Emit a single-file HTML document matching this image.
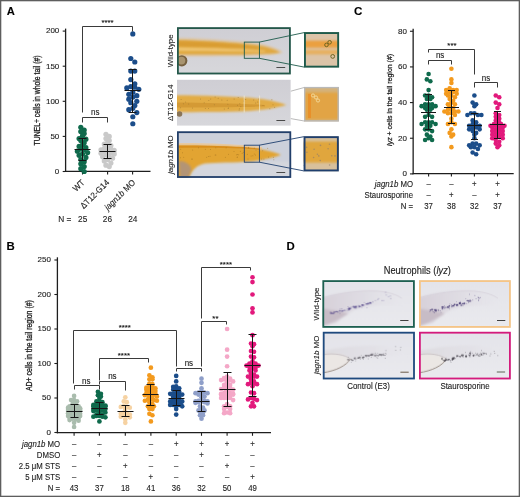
<!DOCTYPE html>
<html><head><meta charset="utf-8"><style>
html,body{margin:0;padding:0;background:#fff;}
body{width:520px;height:497px;overflow:hidden;}
svg{display:block;will-change:transform;}
text{font-family:"Liberation Sans", sans-serif;stroke:#1c1c1c;stroke-width:0.12px;}
</style></head><body>
<svg width="520" height="497" viewBox="0 0 520 497">
<defs>
<filter id="b1" x="-20%" y="-50%" width="140%" height="200%"><feGaussianBlur stdDeviation="1.0"/></filter>
<filter id="b2" x="-20%" y="-50%" width="140%" height="200%"><feGaussianBlur stdDeviation="2.0"/></filter>
<filter id="b05" x="-20%" y="-50%" width="140%" height="200%"><feGaussianBlur stdDeviation="0.5"/></filter>

<linearGradient id="bgA" x1="0" y1="0" x2="0" y2="1"><stop offset="0" stop-color="#cfced4"/><stop offset="1" stop-color="#d7d7db"/></linearGradient>
<linearGradient id="bgD" x1="0" y1="0" x2="0" y2="1"><stop offset="0" stop-color="#e4e4ea"/><stop offset="1" stop-color="#eaeaee"/></linearGradient>
<linearGradient id="fishG" x1="0" y1="0" x2="1" y2="0"><stop offset="0" stop-color="#d6cfd8" stop-opacity="0.95"/><stop offset="0.5" stop-color="#dcd8e0" stop-opacity="0.7"/><stop offset="1" stop-color="#e4e2e8" stop-opacity="0"/></linearGradient>
<linearGradient id="fishG2" x1="0" y1="0" x2="1" y2="0"><stop offset="0" stop-color="#dcdade" stop-opacity="0.9"/><stop offset="0.6" stop-color="#e0dee4" stop-opacity="0.6"/><stop offset="1" stop-color="#e4e2e8" stop-opacity="0"/></linearGradient>
<clipPath id="cA1"><rect x="177" y="27.2" width="113.8" height="47.2"/></clipPath>
<clipPath id="cA2"><rect x="177" y="79.6" width="113.8" height="46.2"/></clipPath>
<clipPath id="cA3"><rect x="177" y="131.3" width="114.2" height="46.6"/></clipPath>

</defs>
<rect x="0" y="0" width="520" height="497" fill="#fff"/>
<text x="6.80" y="15.10" font-size="11.2" text-anchor="start" font-weight="bold" fill="#000" >A</text>
<text x="353.90" y="15.30" font-size="11.6" text-anchor="start" font-weight="bold" fill="#000" >C</text>
<text x="6.60" y="249.60" font-size="11.4" text-anchor="start" font-weight="bold" fill="#000" >B</text>
<text x="286.40" y="249.70" font-size="11.4" text-anchor="start" font-weight="bold" fill="#000" >D</text>
<line x1="65.60" y1="28.60" x2="65.60" y2="172.00" stroke="#1e1e1e" stroke-width="1.3"/>
<line x1="65.00" y1="171.40" x2="150.50" y2="171.40" stroke="#1e1e1e" stroke-width="1.3"/>
<line x1="62.70" y1="171.50" x2="65.60" y2="171.50" stroke="#1e1e1e" stroke-width="1.1"/>
<text x="59.30" y="173.85" font-size="8.0" text-anchor="end" fill="#1c1c1c" >0</text>
<line x1="62.70" y1="136.40" x2="65.60" y2="136.40" stroke="#1e1e1e" stroke-width="1.1"/>
<text x="59.30" y="138.75" font-size="8.0" text-anchor="end" fill="#1c1c1c" >50</text>
<line x1="62.70" y1="101.30" x2="65.60" y2="101.30" stroke="#1e1e1e" stroke-width="1.1"/>
<text x="59.30" y="103.65" font-size="8.0" text-anchor="end" fill="#1c1c1c" >100</text>
<line x1="62.70" y1="66.20" x2="65.60" y2="66.20" stroke="#1e1e1e" stroke-width="1.1"/>
<text x="59.30" y="68.55" font-size="8.0" text-anchor="end" fill="#1c1c1c" >150</text>
<line x1="62.70" y1="31.10" x2="65.60" y2="31.10" stroke="#1e1e1e" stroke-width="1.1"/>
<text x="59.30" y="33.45" font-size="8.0" text-anchor="end" fill="#1c1c1c" >200</text>
<line x1="82.50" y1="171.40" x2="82.50" y2="174.50" stroke="#1e1e1e" stroke-width="1.1"/>
<line x1="107.60" y1="171.40" x2="107.60" y2="174.50" stroke="#1e1e1e" stroke-width="1.1"/>
<line x1="132.60" y1="171.40" x2="132.60" y2="174.50" stroke="#1e1e1e" stroke-width="1.1"/>
<text x="40.10" y="100.50" font-size="9.0" text-anchor="middle" fill="#1c1c1c" transform="rotate(-90 40.10 100.50)" textLength="90" lengthAdjust="spacingAndGlyphs" style="stroke-width:0.3px">TUNEL+ cells in whole tail (#)</text>
<circle cx="80.80" cy="127.27" r="2.6" fill="#0f6a4c"/>
<circle cx="84.20" cy="130.08" r="2.6" fill="#0f6a4c"/>
<circle cx="80.80" cy="131.49" r="2.6" fill="#0f6a4c"/>
<circle cx="84.20" cy="133.59" r="2.6" fill="#0f6a4c"/>
<circle cx="82.50" cy="135.70" r="2.6" fill="#0f6a4c"/>
<circle cx="79.10" cy="138.51" r="2.6" fill="#0f6a4c"/>
<circle cx="85.90" cy="139.21" r="2.6" fill="#0f6a4c"/>
<circle cx="80.80" cy="140.61" r="2.6" fill="#0f6a4c"/>
<circle cx="84.20" cy="142.72" r="2.6" fill="#0f6a4c"/>
<circle cx="82.50" cy="144.82" r="2.6" fill="#0f6a4c"/>
<circle cx="79.10" cy="146.23" r="2.6" fill="#0f6a4c"/>
<circle cx="85.90" cy="147.63" r="2.6" fill="#0f6a4c"/>
<circle cx="80.80" cy="149.04" r="2.6" fill="#0f6a4c"/>
<circle cx="84.20" cy="149.74" r="2.6" fill="#0f6a4c"/>
<circle cx="77.40" cy="151.14" r="2.6" fill="#0f6a4c"/>
<circle cx="87.60" cy="152.55" r="2.6" fill="#0f6a4c"/>
<circle cx="82.50" cy="153.95" r="2.6" fill="#0f6a4c"/>
<circle cx="79.10" cy="155.35" r="2.6" fill="#0f6a4c"/>
<circle cx="85.90" cy="157.46" r="2.6" fill="#0f6a4c"/>
<circle cx="80.80" cy="159.57" r="2.6" fill="#0f6a4c"/>
<circle cx="84.20" cy="161.67" r="2.6" fill="#0f6a4c"/>
<circle cx="80.80" cy="163.78" r="2.6" fill="#0f6a4c"/>
<circle cx="84.20" cy="166.59" r="2.6" fill="#0f6a4c"/>
<circle cx="80.80" cy="168.69" r="2.6" fill="#0f6a4c"/>
<circle cx="84.20" cy="171.50" r="2.6" fill="#0f6a4c"/>
<line x1="74.50" y1="149.50" x2="90.50" y2="149.50" stroke="#151515" stroke-width="1.0"/>
<line x1="78.50" y1="160.50" x2="86.50" y2="160.50" stroke="#151515" stroke-width="1.0"/>
<line x1="78.50" y1="138.50" x2="86.50" y2="138.50" stroke="#151515" stroke-width="1.0"/>
<line x1="82.50" y1="138.50" x2="82.50" y2="160.50" stroke="#151515" stroke-width="1.0"/>
<circle cx="105.95" cy="134.29" r="2.6" fill="#c9c9c9"/>
<circle cx="109.25" cy="136.40" r="2.6" fill="#c9c9c9"/>
<circle cx="105.95" cy="138.51" r="2.6" fill="#c9c9c9"/>
<circle cx="109.25" cy="140.61" r="2.6" fill="#c9c9c9"/>
<circle cx="107.60" cy="142.72" r="2.6" fill="#c9c9c9"/>
<circle cx="104.30" cy="144.12" r="2.6" fill="#c9c9c9"/>
<circle cx="110.90" cy="145.53" r="2.6" fill="#c9c9c9"/>
<circle cx="107.60" cy="146.93" r="2.6" fill="#c9c9c9"/>
<circle cx="104.30" cy="148.33" r="2.6" fill="#c9c9c9"/>
<circle cx="110.90" cy="149.04" r="2.6" fill="#c9c9c9"/>
<circle cx="101.00" cy="149.74" r="2.6" fill="#c9c9c9"/>
<circle cx="114.20" cy="150.44" r="2.6" fill="#c9c9c9"/>
<circle cx="107.60" cy="151.14" r="2.6" fill="#c9c9c9"/>
<circle cx="104.30" cy="151.84" r="2.6" fill="#c9c9c9"/>
<circle cx="110.90" cy="152.55" r="2.6" fill="#c9c9c9"/>
<circle cx="101.00" cy="153.25" r="2.6" fill="#c9c9c9"/>
<circle cx="114.20" cy="153.95" r="2.6" fill="#c9c9c9"/>
<circle cx="105.95" cy="154.65" r="2.6" fill="#c9c9c9"/>
<circle cx="109.25" cy="156.06" r="2.6" fill="#c9c9c9"/>
<circle cx="102.65" cy="156.76" r="2.6" fill="#c9c9c9"/>
<circle cx="112.55" cy="158.16" r="2.6" fill="#c9c9c9"/>
<circle cx="107.60" cy="159.57" r="2.6" fill="#c9c9c9"/>
<circle cx="104.30" cy="160.97" r="2.6" fill="#c9c9c9"/>
<circle cx="110.90" cy="163.08" r="2.6" fill="#c9c9c9"/>
<circle cx="105.95" cy="165.18" r="2.6" fill="#c9c9c9"/>
<circle cx="109.25" cy="166.59" r="2.6" fill="#c9c9c9"/>
<line x1="99.50" y1="151.50" x2="115.50" y2="151.50" stroke="#151515" stroke-width="1.0"/>
<line x1="103.50" y1="158.50" x2="111.50" y2="158.50" stroke="#151515" stroke-width="1.0"/>
<line x1="103.50" y1="144.50" x2="111.50" y2="144.50" stroke="#151515" stroke-width="1.0"/>
<line x1="107.50" y1="144.50" x2="107.50" y2="158.50" stroke="#151515" stroke-width="1.0"/>
<circle cx="132.80" cy="33.91" r="2.6" fill="#1b4d8a"/>
<circle cx="130.80" cy="58.48" r="2.6" fill="#1b4d8a"/>
<circle cx="134.80" cy="61.99" r="2.6" fill="#1b4d8a"/>
<circle cx="130.80" cy="71.11" r="2.6" fill="#1b4d8a"/>
<circle cx="134.80" cy="71.11" r="2.6" fill="#1b4d8a"/>
<circle cx="130.80" cy="79.54" r="2.6" fill="#1b4d8a"/>
<circle cx="134.80" cy="83.75" r="2.6" fill="#1b4d8a"/>
<circle cx="130.80" cy="86.56" r="2.6" fill="#1b4d8a"/>
<circle cx="134.80" cy="87.26" r="2.6" fill="#1b4d8a"/>
<circle cx="126.80" cy="87.96" r="2.6" fill="#1b4d8a"/>
<circle cx="138.80" cy="89.37" r="2.6" fill="#1b4d8a"/>
<circle cx="132.80" cy="92.17" r="2.6" fill="#1b4d8a"/>
<circle cx="128.80" cy="94.28" r="2.6" fill="#1b4d8a"/>
<circle cx="136.80" cy="95.68" r="2.6" fill="#1b4d8a"/>
<circle cx="132.80" cy="97.09" r="2.6" fill="#1b4d8a"/>
<circle cx="136.80" cy="101.30" r="2.6" fill="#1b4d8a"/>
<circle cx="130.80" cy="102.70" r="2.6" fill="#1b4d8a"/>
<circle cx="134.80" cy="105.51" r="2.6" fill="#1b4d8a"/>
<circle cx="132.80" cy="108.32" r="2.6" fill="#1b4d8a"/>
<circle cx="128.80" cy="109.72" r="2.6" fill="#1b4d8a"/>
<circle cx="136.80" cy="112.53" r="2.6" fill="#1b4d8a"/>
<circle cx="132.80" cy="116.74" r="2.6" fill="#1b4d8a"/>
<circle cx="132.80" cy="123.76" r="2.6" fill="#1b4d8a"/>
<circle cx="128.80" cy="99.19" r="2.6" fill="#1b4d8a"/>
<line x1="124.50" y1="90.50" x2="140.50" y2="90.50" stroke="#151515" stroke-width="1.0"/>
<line x1="128.50" y1="112.50" x2="136.50" y2="112.50" stroke="#151515" stroke-width="1.0"/>
<line x1="128.50" y1="69.50" x2="136.50" y2="69.50" stroke="#151515" stroke-width="1.0"/>
<line x1="132.50" y1="69.50" x2="132.50" y2="112.50" stroke="#151515" stroke-width="1.0"/>
<polyline points="82.50,112.50 82.50,26.50 132.50,26.50 132.50,31.50" fill="none" stroke="#3a3a3a" stroke-width="1.0"/>
<text x="107.60" y="25.30" font-size="7.8" text-anchor="middle" fill="#111" >****</text>
<polyline points="82.50,122.50 82.50,117.50 107.50,117.50 107.50,122.50" fill="none" stroke="#3a3a3a" stroke-width="1.0"/>
<text x="95.20" y="115.30" font-size="8.64" text-anchor="middle" fill="#1c1c1c" textLength="8.45" lengthAdjust="spacingAndGlyphs" >ns</text>
<text x="85.20" y="183.20" font-size="8.75" text-anchor="end" fill="#1c1c1c" transform="rotate(-45 85.20 183.20)" textLength="12.59" lengthAdjust="spacingAndGlyphs" >WT</text>
<text x="109.80" y="183.20" font-size="8.64" text-anchor="end" fill="#1c1c1c" transform="rotate(-45 109.80 183.20)" textLength="36.91" lengthAdjust="spacingAndGlyphs" >ΔT12-G14</text>
<text x="135.80" y="183.20" font-size="8.64" text-anchor="end" fill="#1c1c1c" transform="rotate(-45 135.80 183.20)" textLength="39.13" lengthAdjust="spacingAndGlyphs" ><tspan font-style="italic">jagn1b</tspan> MO</text>
<text x="71.30" y="222.40" font-size="8.96" text-anchor="end" fill="#1c1c1c" textLength="13.15" lengthAdjust="spacingAndGlyphs" >N =</text>
<text x="82.70" y="222.40" font-size="8.96" text-anchor="middle" fill="#1c1c1c" textLength="9.23" lengthAdjust="spacingAndGlyphs" >25</text>
<text x="107.40" y="222.40" font-size="8.96" text-anchor="middle" fill="#1c1c1c" textLength="9.23" lengthAdjust="spacingAndGlyphs" >26</text>
<text x="132.80" y="222.40" font-size="8.96" text-anchor="middle" fill="#1c1c1c" textLength="9.23" lengthAdjust="spacingAndGlyphs" >24</text>
<line x1="413.15" y1="28.80" x2="413.15" y2="174.20" stroke="#1e1e1e" stroke-width="1.3"/>
<line x1="412.55" y1="173.60" x2="513.70" y2="173.60" stroke="#1e1e1e" stroke-width="1.3"/>
<line x1="409.95" y1="173.90" x2="413.15" y2="173.90" stroke="#1e1e1e" stroke-width="1.1"/>
<text x="406.90" y="176.25" font-size="8.0" text-anchor="end" fill="#1c1c1c" >0</text>
<line x1="409.95" y1="138.24" x2="413.15" y2="138.24" stroke="#1e1e1e" stroke-width="1.1"/>
<text x="406.90" y="140.59" font-size="8.0" text-anchor="end" fill="#1c1c1c" >20</text>
<line x1="409.95" y1="102.58" x2="413.15" y2="102.58" stroke="#1e1e1e" stroke-width="1.1"/>
<text x="406.90" y="104.93" font-size="8.0" text-anchor="end" fill="#1c1c1c" >40</text>
<line x1="409.95" y1="66.92" x2="413.15" y2="66.92" stroke="#1e1e1e" stroke-width="1.1"/>
<text x="406.90" y="69.27" font-size="8.0" text-anchor="end" fill="#1c1c1c" >60</text>
<line x1="409.95" y1="31.26" x2="413.15" y2="31.26" stroke="#1e1e1e" stroke-width="1.1"/>
<text x="406.90" y="33.61" font-size="8.0" text-anchor="end" fill="#1c1c1c" >80</text>
<line x1="428.60" y1="173.60" x2="428.60" y2="176.40" stroke="#1e1e1e" stroke-width="1.1"/>
<line x1="451.40" y1="173.60" x2="451.40" y2="176.40" stroke="#1e1e1e" stroke-width="1.1"/>
<line x1="474.40" y1="173.60" x2="474.40" y2="176.40" stroke="#1e1e1e" stroke-width="1.1"/>
<line x1="497.50" y1="173.60" x2="497.50" y2="176.40" stroke="#1e1e1e" stroke-width="1.1"/>
<text x="392.3" y="99.9" font-size="8" text-anchor="middle" fill="#1c1c1c" transform="rotate(-90 392.3 99.9)" textLength="92" lengthAdjust="spacingAndGlyphs" style="stroke-width:0.25px"><tspan font-style="italic">lyz</tspan> + cells in the tail region (#)</text>
<circle cx="428.60" cy="74.05" r="2.3" fill="#0f6a4c"/>
<circle cx="426.85" cy="79.40" r="2.3" fill="#0f6a4c"/>
<circle cx="430.35" cy="81.18" r="2.3" fill="#0f6a4c"/>
<circle cx="428.60" cy="90.10" r="2.3" fill="#0f6a4c"/>
<circle cx="428.60" cy="95.45" r="2.3" fill="#0f6a4c"/>
<circle cx="425.10" cy="95.45" r="2.3" fill="#0f6a4c"/>
<circle cx="432.10" cy="97.23" r="2.3" fill="#0f6a4c"/>
<circle cx="426.85" cy="99.01" r="2.3" fill="#0f6a4c"/>
<circle cx="430.35" cy="99.01" r="2.3" fill="#0f6a4c"/>
<circle cx="428.60" cy="104.36" r="2.3" fill="#0f6a4c"/>
<circle cx="425.10" cy="104.36" r="2.3" fill="#0f6a4c"/>
<circle cx="432.10" cy="104.36" r="2.3" fill="#0f6a4c"/>
<circle cx="421.60" cy="106.15" r="2.3" fill="#0f6a4c"/>
<circle cx="435.60" cy="106.15" r="2.3" fill="#0f6a4c"/>
<circle cx="428.60" cy="106.15" r="2.3" fill="#0f6a4c"/>
<circle cx="425.10" cy="107.93" r="2.3" fill="#0f6a4c"/>
<circle cx="432.10" cy="107.93" r="2.3" fill="#0f6a4c"/>
<circle cx="426.85" cy="109.71" r="2.3" fill="#0f6a4c"/>
<circle cx="430.35" cy="109.71" r="2.3" fill="#0f6a4c"/>
<circle cx="428.60" cy="115.06" r="2.3" fill="#0f6a4c"/>
<circle cx="425.10" cy="116.84" r="2.3" fill="#0f6a4c"/>
<circle cx="432.10" cy="116.84" r="2.3" fill="#0f6a4c"/>
<circle cx="428.60" cy="122.19" r="2.3" fill="#0f6a4c"/>
<circle cx="425.10" cy="122.19" r="2.3" fill="#0f6a4c"/>
<circle cx="432.10" cy="122.19" r="2.3" fill="#0f6a4c"/>
<circle cx="421.60" cy="123.98" r="2.3" fill="#0f6a4c"/>
<circle cx="435.60" cy="123.98" r="2.3" fill="#0f6a4c"/>
<circle cx="426.85" cy="125.76" r="2.3" fill="#0f6a4c"/>
<circle cx="430.35" cy="125.76" r="2.3" fill="#0f6a4c"/>
<circle cx="428.60" cy="129.33" r="2.3" fill="#0f6a4c"/>
<circle cx="425.10" cy="129.33" r="2.3" fill="#0f6a4c"/>
<circle cx="432.10" cy="131.11" r="2.3" fill="#0f6a4c"/>
<circle cx="426.85" cy="134.67" r="2.3" fill="#0f6a4c"/>
<circle cx="430.35" cy="136.46" r="2.3" fill="#0f6a4c"/>
<circle cx="428.60" cy="138.24" r="2.3" fill="#0f6a4c"/>
<circle cx="425.10" cy="140.02" r="2.3" fill="#0f6a4c"/>
<circle cx="432.10" cy="140.02" r="2.3" fill="#0f6a4c"/>
<line x1="421.00" y1="112.50" x2="436.00" y2="112.50" stroke="#151515" stroke-width="1.0"/>
<line x1="425.00" y1="129.50" x2="432.00" y2="129.50" stroke="#151515" stroke-width="1.0"/>
<line x1="425.00" y1="94.50" x2="432.00" y2="94.50" stroke="#151515" stroke-width="1.0"/>
<line x1="428.50" y1="94.50" x2="428.50" y2="129.50" stroke="#151515" stroke-width="1.0"/>
<circle cx="451.40" cy="68.70" r="2.3" fill="#f39a1e"/>
<circle cx="451.40" cy="79.40" r="2.3" fill="#f39a1e"/>
<circle cx="451.40" cy="82.97" r="2.3" fill="#f39a1e"/>
<circle cx="449.65" cy="88.32" r="2.3" fill="#f39a1e"/>
<circle cx="453.15" cy="90.10" r="2.3" fill="#f39a1e"/>
<circle cx="446.15" cy="90.10" r="2.3" fill="#f39a1e"/>
<circle cx="456.65" cy="90.10" r="2.3" fill="#f39a1e"/>
<circle cx="449.65" cy="91.88" r="2.3" fill="#f39a1e"/>
<circle cx="453.15" cy="91.88" r="2.3" fill="#f39a1e"/>
<circle cx="446.15" cy="93.67" r="2.3" fill="#f39a1e"/>
<circle cx="456.65" cy="93.67" r="2.3" fill="#f39a1e"/>
<circle cx="451.40" cy="95.45" r="2.3" fill="#f39a1e"/>
<circle cx="447.90" cy="95.45" r="2.3" fill="#f39a1e"/>
<circle cx="454.90" cy="97.23" r="2.3" fill="#f39a1e"/>
<circle cx="449.65" cy="99.01" r="2.3" fill="#f39a1e"/>
<circle cx="453.15" cy="100.80" r="2.3" fill="#f39a1e"/>
<circle cx="451.40" cy="102.58" r="2.3" fill="#f39a1e"/>
<circle cx="447.90" cy="104.36" r="2.3" fill="#f39a1e"/>
<circle cx="454.90" cy="104.36" r="2.3" fill="#f39a1e"/>
<circle cx="449.65" cy="106.15" r="2.3" fill="#f39a1e"/>
<circle cx="453.15" cy="107.93" r="2.3" fill="#f39a1e"/>
<circle cx="451.40" cy="109.71" r="2.3" fill="#f39a1e"/>
<circle cx="447.90" cy="109.71" r="2.3" fill="#f39a1e"/>
<circle cx="454.90" cy="111.50" r="2.3" fill="#f39a1e"/>
<circle cx="444.40" cy="111.50" r="2.3" fill="#f39a1e"/>
<circle cx="458.40" cy="111.50" r="2.3" fill="#f39a1e"/>
<circle cx="451.40" cy="113.28" r="2.3" fill="#f39a1e"/>
<circle cx="447.90" cy="113.28" r="2.3" fill="#f39a1e"/>
<circle cx="454.90" cy="115.06" r="2.3" fill="#f39a1e"/>
<circle cx="451.40" cy="118.63" r="2.3" fill="#f39a1e"/>
<circle cx="451.40" cy="122.19" r="2.3" fill="#f39a1e"/>
<circle cx="447.90" cy="123.98" r="2.3" fill="#f39a1e"/>
<circle cx="454.90" cy="123.98" r="2.3" fill="#f39a1e"/>
<circle cx="451.40" cy="129.33" r="2.3" fill="#f39a1e"/>
<circle cx="449.65" cy="132.89" r="2.3" fill="#f39a1e"/>
<circle cx="453.15" cy="134.67" r="2.3" fill="#f39a1e"/>
<circle cx="451.40" cy="136.46" r="2.3" fill="#f39a1e"/>
<circle cx="451.40" cy="147.16" r="2.3" fill="#f39a1e"/>
<line x1="444.00" y1="107.50" x2="459.00" y2="107.50" stroke="#151515" stroke-width="1.0"/>
<line x1="448.00" y1="123.50" x2="455.00" y2="123.50" stroke="#151515" stroke-width="1.0"/>
<line x1="448.00" y1="90.50" x2="455.00" y2="90.50" stroke="#151515" stroke-width="1.0"/>
<line x1="451.50" y1="90.50" x2="451.50" y2="123.50" stroke="#151515" stroke-width="1.0"/>
<circle cx="474.40" cy="95.45" r="2.3" fill="#1b4d8a"/>
<circle cx="472.65" cy="102.58" r="2.3" fill="#1b4d8a"/>
<circle cx="476.15" cy="104.36" r="2.3" fill="#1b4d8a"/>
<circle cx="474.40" cy="106.15" r="2.3" fill="#1b4d8a"/>
<circle cx="474.40" cy="113.28" r="2.3" fill="#1b4d8a"/>
<circle cx="470.90" cy="113.28" r="2.3" fill="#1b4d8a"/>
<circle cx="477.90" cy="115.06" r="2.3" fill="#1b4d8a"/>
<circle cx="467.40" cy="115.06" r="2.3" fill="#1b4d8a"/>
<circle cx="481.40" cy="115.06" r="2.3" fill="#1b4d8a"/>
<circle cx="472.65" cy="120.41" r="2.3" fill="#1b4d8a"/>
<circle cx="476.15" cy="122.19" r="2.3" fill="#1b4d8a"/>
<circle cx="472.65" cy="123.98" r="2.3" fill="#1b4d8a"/>
<circle cx="476.15" cy="125.76" r="2.3" fill="#1b4d8a"/>
<circle cx="469.15" cy="125.76" r="2.3" fill="#1b4d8a"/>
<circle cx="479.65" cy="125.76" r="2.3" fill="#1b4d8a"/>
<circle cx="472.65" cy="127.54" r="2.3" fill="#1b4d8a"/>
<circle cx="476.15" cy="127.54" r="2.3" fill="#1b4d8a"/>
<circle cx="469.15" cy="129.33" r="2.3" fill="#1b4d8a"/>
<circle cx="479.65" cy="129.33" r="2.3" fill="#1b4d8a"/>
<circle cx="472.65" cy="131.11" r="2.3" fill="#1b4d8a"/>
<circle cx="476.15" cy="132.89" r="2.3" fill="#1b4d8a"/>
<circle cx="474.40" cy="134.67" r="2.3" fill="#1b4d8a"/>
<circle cx="474.40" cy="138.24" r="2.3" fill="#1b4d8a"/>
<circle cx="472.65" cy="143.59" r="2.3" fill="#1b4d8a"/>
<circle cx="476.15" cy="143.59" r="2.3" fill="#1b4d8a"/>
<circle cx="469.15" cy="145.37" r="2.3" fill="#1b4d8a"/>
<circle cx="479.65" cy="145.37" r="2.3" fill="#1b4d8a"/>
<circle cx="474.40" cy="147.16" r="2.3" fill="#1b4d8a"/>
<circle cx="470.90" cy="147.16" r="2.3" fill="#1b4d8a"/>
<circle cx="477.90" cy="148.94" r="2.3" fill="#1b4d8a"/>
<circle cx="472.65" cy="152.50" r="2.3" fill="#1b4d8a"/>
<circle cx="476.15" cy="154.29" r="2.3" fill="#1b4d8a"/>
<line x1="467.00" y1="125.50" x2="482.00" y2="125.50" stroke="#151515" stroke-width="1.0"/>
<line x1="471.00" y1="139.50" x2="478.00" y2="139.50" stroke="#151515" stroke-width="1.0"/>
<line x1="471.00" y1="113.50" x2="478.00" y2="113.50" stroke="#151515" stroke-width="1.0"/>
<line x1="474.50" y1="113.50" x2="474.50" y2="139.50" stroke="#151515" stroke-width="1.0"/>
<circle cx="495.75" cy="95.45" r="2.3" fill="#e2197c"/>
<circle cx="499.25" cy="97.23" r="2.3" fill="#e2197c"/>
<circle cx="495.75" cy="102.58" r="2.3" fill="#e2197c"/>
<circle cx="499.25" cy="104.36" r="2.3" fill="#e2197c"/>
<circle cx="497.50" cy="107.93" r="2.3" fill="#e2197c"/>
<circle cx="495.75" cy="113.28" r="2.3" fill="#e2197c"/>
<circle cx="499.25" cy="115.06" r="2.3" fill="#e2197c"/>
<circle cx="495.75" cy="116.84" r="2.3" fill="#e2197c"/>
<circle cx="499.25" cy="118.63" r="2.3" fill="#e2197c"/>
<circle cx="495.75" cy="120.41" r="2.3" fill="#e2197c"/>
<circle cx="499.25" cy="122.19" r="2.3" fill="#e2197c"/>
<circle cx="497.50" cy="123.98" r="2.3" fill="#e2197c"/>
<circle cx="494.00" cy="123.98" r="2.3" fill="#e2197c"/>
<circle cx="501.00" cy="123.98" r="2.3" fill="#e2197c"/>
<circle cx="490.50" cy="125.76" r="2.3" fill="#e2197c"/>
<circle cx="504.50" cy="125.76" r="2.3" fill="#e2197c"/>
<circle cx="495.75" cy="125.76" r="2.3" fill="#e2197c"/>
<circle cx="499.25" cy="127.54" r="2.3" fill="#e2197c"/>
<circle cx="492.25" cy="127.54" r="2.3" fill="#e2197c"/>
<circle cx="502.75" cy="127.54" r="2.3" fill="#e2197c"/>
<circle cx="495.75" cy="129.33" r="2.3" fill="#e2197c"/>
<circle cx="499.25" cy="129.33" r="2.3" fill="#e2197c"/>
<circle cx="492.25" cy="131.11" r="2.3" fill="#e2197c"/>
<circle cx="502.75" cy="131.11" r="2.3" fill="#e2197c"/>
<circle cx="495.75" cy="132.89" r="2.3" fill="#e2197c"/>
<circle cx="499.25" cy="132.89" r="2.3" fill="#e2197c"/>
<circle cx="492.25" cy="134.67" r="2.3" fill="#e2197c"/>
<circle cx="502.75" cy="134.67" r="2.3" fill="#e2197c"/>
<circle cx="495.75" cy="136.46" r="2.3" fill="#e2197c"/>
<circle cx="499.25" cy="136.46" r="2.3" fill="#e2197c"/>
<circle cx="492.25" cy="138.24" r="2.3" fill="#e2197c"/>
<circle cx="502.75" cy="138.24" r="2.3" fill="#e2197c"/>
<circle cx="495.75" cy="140.02" r="2.3" fill="#e2197c"/>
<circle cx="499.25" cy="141.81" r="2.3" fill="#e2197c"/>
<circle cx="495.75" cy="143.59" r="2.3" fill="#e2197c"/>
<circle cx="499.25" cy="145.37" r="2.3" fill="#e2197c"/>
<circle cx="497.50" cy="147.16" r="2.3" fill="#e2197c"/>
<line x1="490.00" y1="124.50" x2="505.00" y2="124.50" stroke="#151515" stroke-width="1.0"/>
<line x1="494.00" y1="138.50" x2="501.00" y2="138.50" stroke="#151515" stroke-width="1.0"/>
<line x1="494.00" y1="111.50" x2="501.00" y2="111.50" stroke="#151515" stroke-width="1.0"/>
<line x1="497.50" y1="111.50" x2="497.50" y2="138.50" stroke="#151515" stroke-width="1.0"/>
<polyline points="428.50,52.50 428.50,49.50 474.50,49.50 474.50,74.50" fill="none" stroke="#3a3a3a" stroke-width="1.0"/>
<text x="451.90" y="48.40" font-size="7.8" text-anchor="middle" fill="#111" >***</text>
<polyline points="428.50,64.50 428.50,60.50 451.50,60.50 451.50,64.50" fill="none" stroke="#3a3a3a" stroke-width="1.0"/>
<text x="440.10" y="58.20" font-size="8.64" text-anchor="middle" fill="#1c1c1c" textLength="8.45" lengthAdjust="spacingAndGlyphs" >ns</text>
<polyline points="474.50,87.50 474.50,82.50 497.50,82.50 497.50,87.50" fill="none" stroke="#3a3a3a" stroke-width="1.0"/>
<text x="486.00" y="80.90" font-size="8.64" text-anchor="middle" fill="#1c1c1c" textLength="8.45" lengthAdjust="spacingAndGlyphs" >ns</text>
<text x="413.00" y="187.00" font-size="8.42" text-anchor="end" fill="#1c1c1c" textLength="38.15" lengthAdjust="spacingAndGlyphs" ><tspan font-style="italic">jagn1b</tspan> MO</text>
<text x="413.00" y="198.00" font-size="8.42" text-anchor="end" fill="#1c1c1c" textLength="48.56" lengthAdjust="spacingAndGlyphs" >Staurosporine</text>
<text x="413.00" y="208.60" font-size="8.42" text-anchor="end" fill="#1c1c1c" textLength="12.36" lengthAdjust="spacingAndGlyphs" >N =</text>
<text x="428.60" y="187.00" font-size="8.42" text-anchor="middle" fill="#1c1c1c" textLength="4.34" lengthAdjust="spacingAndGlyphs" >–</text>
<text x="451.40" y="187.00" font-size="8.42" text-anchor="middle" fill="#1c1c1c" textLength="4.34" lengthAdjust="spacingAndGlyphs" >–</text>
<text x="474.40" y="187.00" font-size="8.42" text-anchor="middle" fill="#1c1c1c" textLength="4.56" lengthAdjust="spacingAndGlyphs" >+</text>
<text x="497.50" y="187.00" font-size="8.42" text-anchor="middle" fill="#1c1c1c" textLength="4.56" lengthAdjust="spacingAndGlyphs" >+</text>
<text x="428.60" y="198.00" font-size="8.42" text-anchor="middle" fill="#1c1c1c" textLength="4.34" lengthAdjust="spacingAndGlyphs" >–</text>
<text x="451.40" y="198.00" font-size="8.42" text-anchor="middle" fill="#1c1c1c" textLength="4.56" lengthAdjust="spacingAndGlyphs" >+</text>
<text x="474.40" y="198.00" font-size="8.42" text-anchor="middle" fill="#1c1c1c" textLength="4.34" lengthAdjust="spacingAndGlyphs" >–</text>
<text x="497.50" y="198.00" font-size="8.42" text-anchor="middle" fill="#1c1c1c" textLength="4.56" lengthAdjust="spacingAndGlyphs" >+</text>
<text x="428.60" y="208.60" font-size="8.42" text-anchor="middle" fill="#1c1c1c" textLength="8.68" lengthAdjust="spacingAndGlyphs" >37</text>
<text x="451.40" y="208.60" font-size="8.42" text-anchor="middle" fill="#1c1c1c" textLength="8.68" lengthAdjust="spacingAndGlyphs" >38</text>
<text x="474.40" y="208.60" font-size="8.42" text-anchor="middle" fill="#1c1c1c" textLength="8.68" lengthAdjust="spacingAndGlyphs" >32</text>
<text x="497.50" y="208.60" font-size="8.42" text-anchor="middle" fill="#1c1c1c" textLength="8.68" lengthAdjust="spacingAndGlyphs" >37</text>
<line x1="57.40" y1="257.30" x2="57.40" y2="433.30" stroke="#1e1e1e" stroke-width="1.3"/>
<line x1="56.80" y1="432.70" x2="271.00" y2="432.70" stroke="#1e1e1e" stroke-width="1.3"/>
<line x1="54.40" y1="432.50" x2="57.40" y2="432.50" stroke="#1e1e1e" stroke-width="1.1"/>
<text x="50.90" y="434.85" font-size="8.0" text-anchor="end" fill="#1c1c1c" >0</text>
<line x1="54.40" y1="398.00" x2="57.40" y2="398.00" stroke="#1e1e1e" stroke-width="1.1"/>
<text x="50.90" y="400.35" font-size="8.0" text-anchor="end" fill="#1c1c1c" >50</text>
<line x1="54.40" y1="363.50" x2="57.40" y2="363.50" stroke="#1e1e1e" stroke-width="1.1"/>
<text x="50.90" y="365.85" font-size="8.0" text-anchor="end" fill="#1c1c1c" >100</text>
<line x1="54.40" y1="329.00" x2="57.40" y2="329.00" stroke="#1e1e1e" stroke-width="1.1"/>
<text x="50.90" y="331.35" font-size="8.0" text-anchor="end" fill="#1c1c1c" >150</text>
<line x1="54.40" y1="294.50" x2="57.40" y2="294.50" stroke="#1e1e1e" stroke-width="1.1"/>
<text x="50.90" y="296.85" font-size="8.0" text-anchor="end" fill="#1c1c1c" >200</text>
<line x1="54.40" y1="260.00" x2="57.40" y2="260.00" stroke="#1e1e1e" stroke-width="1.1"/>
<text x="50.90" y="262.35" font-size="8.0" text-anchor="end" fill="#1c1c1c" >250</text>
<line x1="74.10" y1="432.70" x2="74.10" y2="435.80" stroke="#1e1e1e" stroke-width="1.1"/>
<line x1="99.40" y1="432.70" x2="99.40" y2="435.80" stroke="#1e1e1e" stroke-width="1.1"/>
<line x1="125.30" y1="432.70" x2="125.30" y2="435.80" stroke="#1e1e1e" stroke-width="1.1"/>
<line x1="150.90" y1="432.70" x2="150.90" y2="435.80" stroke="#1e1e1e" stroke-width="1.1"/>
<line x1="176.20" y1="432.70" x2="176.20" y2="435.80" stroke="#1e1e1e" stroke-width="1.1"/>
<line x1="201.50" y1="432.70" x2="201.50" y2="435.80" stroke="#1e1e1e" stroke-width="1.1"/>
<line x1="227.10" y1="432.70" x2="227.10" y2="435.80" stroke="#1e1e1e" stroke-width="1.1"/>
<line x1="252.50" y1="432.70" x2="252.50" y2="435.80" stroke="#1e1e1e" stroke-width="1.1"/>
<text x="31.80" y="345.60" font-size="9.0" text-anchor="middle" fill="#1c1c1c" transform="rotate(-90 31.80 345.60)" textLength="91" lengthAdjust="spacingAndGlyphs" style="stroke-width:0.3px">AD+ cells in the tail region (#)</text>
<circle cx="75.60" cy="419.39" r="2.35" fill="#a9bcad"/>
<circle cx="74.10" cy="409.73" r="2.35" fill="#a9bcad"/>
<circle cx="78.60" cy="406.28" r="2.35" fill="#a9bcad"/>
<circle cx="77.10" cy="407.66" r="2.35" fill="#a9bcad"/>
<circle cx="78.60" cy="418.01" r="2.35" fill="#a9bcad"/>
<circle cx="72.60" cy="404.21" r="2.35" fill="#a9bcad"/>
<circle cx="74.10" cy="406.97" r="2.35" fill="#a9bcad"/>
<circle cx="71.10" cy="406.97" r="2.35" fill="#a9bcad"/>
<circle cx="69.60" cy="406.28" r="2.35" fill="#a9bcad"/>
<circle cx="75.60" cy="404.21" r="2.35" fill="#a9bcad"/>
<circle cx="74.10" cy="395.93" r="2.35" fill="#a9bcad"/>
<circle cx="74.10" cy="415.25" r="2.35" fill="#a9bcad"/>
<circle cx="80.10" cy="411.11" r="2.35" fill="#a9bcad"/>
<circle cx="74.10" cy="400.07" r="2.35" fill="#a9bcad"/>
<circle cx="69.60" cy="420.08" r="2.35" fill="#a9bcad"/>
<circle cx="74.10" cy="409.04" r="2.35" fill="#a9bcad"/>
<circle cx="68.10" cy="415.94" r="2.35" fill="#a9bcad"/>
<circle cx="74.10" cy="411.80" r="2.35" fill="#a9bcad"/>
<circle cx="80.10" cy="408.35" r="2.35" fill="#a9bcad"/>
<circle cx="74.10" cy="426.98" r="2.35" fill="#a9bcad"/>
<circle cx="69.60" cy="418.01" r="2.35" fill="#a9bcad"/>
<circle cx="78.60" cy="420.77" r="2.35" fill="#a9bcad"/>
<circle cx="68.10" cy="413.18" r="2.35" fill="#a9bcad"/>
<circle cx="77.10" cy="415.94" r="2.35" fill="#a9bcad"/>
<circle cx="77.10" cy="401.45" r="2.35" fill="#a9bcad"/>
<circle cx="71.10" cy="415.25" r="2.35" fill="#a9bcad"/>
<circle cx="71.10" cy="400.07" r="2.35" fill="#a9bcad"/>
<circle cx="80.10" cy="413.87" r="2.35" fill="#a9bcad"/>
<circle cx="80.10" cy="409.73" r="2.35" fill="#a9bcad"/>
<circle cx="77.10" cy="411.11" r="2.35" fill="#a9bcad"/>
<circle cx="68.10" cy="411.11" r="2.35" fill="#a9bcad"/>
<circle cx="72.60" cy="418.70" r="2.35" fill="#a9bcad"/>
<circle cx="71.10" cy="409.04" r="2.35" fill="#a9bcad"/>
<circle cx="77.10" cy="409.04" r="2.35" fill="#a9bcad"/>
<circle cx="71.10" cy="409.73" r="2.35" fill="#a9bcad"/>
<circle cx="68.10" cy="407.66" r="2.35" fill="#a9bcad"/>
<circle cx="75.60" cy="416.63" r="2.35" fill="#a9bcad"/>
<circle cx="77.10" cy="413.18" r="2.35" fill="#a9bcad"/>
<circle cx="72.60" cy="415.94" r="2.35" fill="#a9bcad"/>
<circle cx="74.10" cy="422.84" r="2.35" fill="#a9bcad"/>
<circle cx="68.10" cy="409.04" r="2.35" fill="#a9bcad"/>
<circle cx="80.10" cy="415.94" r="2.35" fill="#a9bcad"/>
<circle cx="71.10" cy="411.80" r="2.35" fill="#a9bcad"/>
<line x1="66.50" y1="411.50" x2="82.50" y2="411.50" stroke="#151515" stroke-width="1.0"/>
<line x1="70.50" y1="417.50" x2="78.50" y2="417.50" stroke="#151515" stroke-width="1.0"/>
<line x1="70.50" y1="404.50" x2="78.50" y2="404.50" stroke="#151515" stroke-width="1.0"/>
<line x1="74.50" y1="404.50" x2="74.50" y2="417.50" stroke="#151515" stroke-width="1.0"/>
<circle cx="105.40" cy="412.49" r="2.35" fill="#0f6a4c"/>
<circle cx="99.40" cy="421.46" r="2.35" fill="#0f6a4c"/>
<circle cx="96.40" cy="405.59" r="2.35" fill="#0f6a4c"/>
<circle cx="93.40" cy="404.90" r="2.35" fill="#0f6a4c"/>
<circle cx="102.40" cy="410.42" r="2.35" fill="#0f6a4c"/>
<circle cx="99.40" cy="406.97" r="2.35" fill="#0f6a4c"/>
<circle cx="99.40" cy="398.00" r="2.35" fill="#0f6a4c"/>
<circle cx="99.40" cy="403.52" r="2.35" fill="#0f6a4c"/>
<circle cx="105.40" cy="405.59" r="2.35" fill="#0f6a4c"/>
<circle cx="99.40" cy="405.59" r="2.35" fill="#0f6a4c"/>
<circle cx="99.40" cy="413.18" r="2.35" fill="#0f6a4c"/>
<circle cx="96.40" cy="404.21" r="2.35" fill="#0f6a4c"/>
<circle cx="102.40" cy="416.63" r="2.35" fill="#0f6a4c"/>
<circle cx="96.40" cy="410.42" r="2.35" fill="#0f6a4c"/>
<circle cx="93.40" cy="411.11" r="2.35" fill="#0f6a4c"/>
<circle cx="105.40" cy="417.32" r="2.35" fill="#0f6a4c"/>
<circle cx="102.40" cy="409.04" r="2.35" fill="#0f6a4c"/>
<circle cx="99.40" cy="400.76" r="2.35" fill="#0f6a4c"/>
<circle cx="99.40" cy="410.42" r="2.35" fill="#0f6a4c"/>
<circle cx="96.40" cy="414.56" r="2.35" fill="#0f6a4c"/>
<circle cx="93.40" cy="409.04" r="2.35" fill="#0f6a4c"/>
<circle cx="102.40" cy="404.90" r="2.35" fill="#0f6a4c"/>
<circle cx="96.40" cy="407.66" r="2.35" fill="#0f6a4c"/>
<circle cx="105.40" cy="409.04" r="2.35" fill="#0f6a4c"/>
<circle cx="96.40" cy="415.94" r="2.35" fill="#0f6a4c"/>
<circle cx="93.40" cy="406.28" r="2.35" fill="#0f6a4c"/>
<circle cx="105.40" cy="406.28" r="2.35" fill="#0f6a4c"/>
<circle cx="102.40" cy="402.14" r="2.35" fill="#0f6a4c"/>
<circle cx="96.40" cy="401.45" r="2.35" fill="#0f6a4c"/>
<circle cx="102.40" cy="405.59" r="2.35" fill="#0f6a4c"/>
<circle cx="93.40" cy="416.63" r="2.35" fill="#0f6a4c"/>
<circle cx="99.40" cy="415.94" r="2.35" fill="#0f6a4c"/>
<circle cx="102.40" cy="414.56" r="2.35" fill="#0f6a4c"/>
<circle cx="97.90" cy="391.79" r="2.35" fill="#0f6a4c"/>
<circle cx="100.90" cy="393.86" r="2.35" fill="#0f6a4c"/>
<circle cx="97.90" cy="395.24" r="2.35" fill="#0f6a4c"/>
<circle cx="100.90" cy="396.62" r="2.35" fill="#0f6a4c"/>
<line x1="91.50" y1="408.50" x2="107.50" y2="408.50" stroke="#151515" stroke-width="1.0"/>
<line x1="95.50" y1="414.50" x2="103.50" y2="414.50" stroke="#151515" stroke-width="1.0"/>
<line x1="95.50" y1="402.50" x2="103.50" y2="402.50" stroke="#151515" stroke-width="1.0"/>
<line x1="99.50" y1="402.50" x2="99.50" y2="414.50" stroke="#151515" stroke-width="1.0"/>
<circle cx="125.30" cy="409.04" r="2.35" fill="#f6d2a2"/>
<circle cx="125.30" cy="397.31" r="2.35" fill="#f6d2a2"/>
<circle cx="126.80" cy="406.97" r="2.35" fill="#f6d2a2"/>
<circle cx="129.80" cy="417.32" r="2.35" fill="#f6d2a2"/>
<circle cx="126.80" cy="415.25" r="2.35" fill="#f6d2a2"/>
<circle cx="129.80" cy="407.66" r="2.35" fill="#f6d2a2"/>
<circle cx="123.80" cy="412.49" r="2.35" fill="#f6d2a2"/>
<circle cx="123.80" cy="406.28" r="2.35" fill="#f6d2a2"/>
<circle cx="125.30" cy="422.84" r="2.35" fill="#f6d2a2"/>
<circle cx="123.80" cy="401.45" r="2.35" fill="#f6d2a2"/>
<circle cx="126.80" cy="402.14" r="2.35" fill="#f6d2a2"/>
<circle cx="125.30" cy="419.39" r="2.35" fill="#f6d2a2"/>
<circle cx="126.80" cy="413.18" r="2.35" fill="#f6d2a2"/>
<circle cx="123.80" cy="415.25" r="2.35" fill="#f6d2a2"/>
<circle cx="120.80" cy="413.87" r="2.35" fill="#f6d2a2"/>
<circle cx="120.80" cy="406.97" r="2.35" fill="#f6d2a2"/>
<circle cx="129.80" cy="414.56" r="2.35" fill="#f6d2a2"/>
<circle cx="120.80" cy="416.63" r="2.35" fill="#f6d2a2"/>
<line x1="117.50" y1="411.50" x2="133.50" y2="411.50" stroke="#151515" stroke-width="1.0"/>
<line x1="121.50" y1="416.50" x2="129.50" y2="416.50" stroke="#151515" stroke-width="1.0"/>
<line x1="121.50" y1="405.50" x2="129.50" y2="405.50" stroke="#151515" stroke-width="1.0"/>
<line x1="125.50" y1="405.50" x2="125.50" y2="416.50" stroke="#151515" stroke-width="1.0"/>
<circle cx="149.40" cy="383.51" r="2.35" fill="#f39a1e"/>
<circle cx="153.90" cy="406.28" r="2.35" fill="#f39a1e"/>
<circle cx="155.40" cy="388.34" r="2.35" fill="#f39a1e"/>
<circle cx="150.90" cy="405.59" r="2.35" fill="#f39a1e"/>
<circle cx="152.40" cy="384.20" r="2.35" fill="#f39a1e"/>
<circle cx="152.40" cy="409.04" r="2.35" fill="#f39a1e"/>
<circle cx="156.90" cy="400.76" r="2.35" fill="#f39a1e"/>
<circle cx="153.90" cy="400.07" r="2.35" fill="#f39a1e"/>
<circle cx="149.40" cy="413.87" r="2.35" fill="#f39a1e"/>
<circle cx="149.40" cy="386.27" r="2.35" fill="#f39a1e"/>
<circle cx="149.40" cy="409.04" r="2.35" fill="#f39a1e"/>
<circle cx="147.90" cy="406.28" r="2.35" fill="#f39a1e"/>
<circle cx="147.90" cy="399.38" r="2.35" fill="#f39a1e"/>
<circle cx="152.40" cy="386.96" r="2.35" fill="#f39a1e"/>
<circle cx="149.40" cy="402.14" r="2.35" fill="#f39a1e"/>
<circle cx="149.40" cy="375.23" r="2.35" fill="#f39a1e"/>
<circle cx="153.90" cy="394.55" r="2.35" fill="#f39a1e"/>
<circle cx="156.90" cy="396.62" r="2.35" fill="#f39a1e"/>
<circle cx="146.40" cy="389.72" r="2.35" fill="#f39a1e"/>
<circle cx="144.90" cy="395.24" r="2.35" fill="#f39a1e"/>
<circle cx="152.40" cy="404.21" r="2.35" fill="#f39a1e"/>
<circle cx="150.90" cy="399.38" r="2.35" fill="#f39a1e"/>
<circle cx="152.40" cy="392.48" r="2.35" fill="#f39a1e"/>
<circle cx="149.40" cy="379.37" r="2.35" fill="#f39a1e"/>
<circle cx="149.40" cy="391.79" r="2.35" fill="#f39a1e"/>
<circle cx="152.40" cy="389.72" r="2.35" fill="#f39a1e"/>
<circle cx="152.40" cy="415.25" r="2.35" fill="#f39a1e"/>
<circle cx="149.40" cy="396.62" r="2.35" fill="#f39a1e"/>
<circle cx="147.90" cy="394.55" r="2.35" fill="#f39a1e"/>
<circle cx="152.40" cy="377.30" r="2.35" fill="#f39a1e"/>
<circle cx="152.40" cy="379.37" r="2.35" fill="#f39a1e"/>
<circle cx="146.40" cy="393.17" r="2.35" fill="#f39a1e"/>
<circle cx="149.40" cy="389.03" r="2.35" fill="#f39a1e"/>
<circle cx="150.90" cy="394.55" r="2.35" fill="#f39a1e"/>
<circle cx="144.90" cy="400.76" r="2.35" fill="#f39a1e"/>
<circle cx="155.40" cy="393.86" r="2.35" fill="#f39a1e"/>
<circle cx="152.40" cy="398.00" r="2.35" fill="#f39a1e"/>
<circle cx="155.40" cy="391.10" r="2.35" fill="#f39a1e"/>
<circle cx="146.40" cy="387.65" r="2.35" fill="#f39a1e"/>
<circle cx="150.90" cy="367.64" r="2.35" fill="#f39a1e"/>
<circle cx="150.90" cy="421.46" r="2.35" fill="#f39a1e"/>
<line x1="142.50" y1="394.50" x2="158.50" y2="394.50" stroke="#151515" stroke-width="1.0"/>
<line x1="146.50" y1="405.50" x2="154.50" y2="405.50" stroke="#151515" stroke-width="1.0"/>
<line x1="146.50" y1="384.50" x2="154.50" y2="384.50" stroke="#151515" stroke-width="1.0"/>
<line x1="150.50" y1="384.50" x2="150.50" y2="405.50" stroke="#151515" stroke-width="1.0"/>
<circle cx="179.20" cy="396.62" r="2.35" fill="#1b4d8a"/>
<circle cx="173.20" cy="396.62" r="2.35" fill="#1b4d8a"/>
<circle cx="182.20" cy="406.28" r="2.35" fill="#1b4d8a"/>
<circle cx="173.20" cy="401.45" r="2.35" fill="#1b4d8a"/>
<circle cx="170.20" cy="401.45" r="2.35" fill="#1b4d8a"/>
<circle cx="176.20" cy="400.76" r="2.35" fill="#1b4d8a"/>
<circle cx="176.20" cy="381.44" r="2.35" fill="#1b4d8a"/>
<circle cx="177.70" cy="403.52" r="2.35" fill="#1b4d8a"/>
<circle cx="171.70" cy="403.52" r="2.35" fill="#1b4d8a"/>
<circle cx="179.20" cy="404.90" r="2.35" fill="#1b4d8a"/>
<circle cx="176.20" cy="393.17" r="2.35" fill="#1b4d8a"/>
<circle cx="170.20" cy="404.90" r="2.35" fill="#1b4d8a"/>
<circle cx="174.70" cy="402.14" r="2.35" fill="#1b4d8a"/>
<circle cx="179.20" cy="393.86" r="2.35" fill="#1b4d8a"/>
<circle cx="176.20" cy="395.24" r="2.35" fill="#1b4d8a"/>
<circle cx="176.20" cy="409.04" r="2.35" fill="#1b4d8a"/>
<circle cx="176.20" cy="386.27" r="2.35" fill="#1b4d8a"/>
<circle cx="179.20" cy="398.69" r="2.35" fill="#1b4d8a"/>
<circle cx="170.20" cy="393.86" r="2.35" fill="#1b4d8a"/>
<circle cx="173.20" cy="398.69" r="2.35" fill="#1b4d8a"/>
<circle cx="173.20" cy="386.96" r="2.35" fill="#1b4d8a"/>
<circle cx="180.70" cy="404.21" r="2.35" fill="#1b4d8a"/>
<circle cx="176.20" cy="406.28" r="2.35" fill="#1b4d8a"/>
<circle cx="176.20" cy="398.00" r="2.35" fill="#1b4d8a"/>
<circle cx="176.20" cy="389.72" r="2.35" fill="#1b4d8a"/>
<circle cx="182.20" cy="401.45" r="2.35" fill="#1b4d8a"/>
<circle cx="173.20" cy="393.86" r="2.35" fill="#1b4d8a"/>
<circle cx="179.20" cy="388.34" r="2.35" fill="#1b4d8a"/>
<circle cx="176.20" cy="414.56" r="2.35" fill="#1b4d8a"/>
<circle cx="173.20" cy="389.72" r="2.35" fill="#1b4d8a"/>
<circle cx="179.20" cy="391.79" r="2.35" fill="#1b4d8a"/>
<circle cx="173.20" cy="404.90" r="2.35" fill="#1b4d8a"/>
<circle cx="179.20" cy="401.45" r="2.35" fill="#1b4d8a"/>
<circle cx="176.20" cy="404.90" r="2.35" fill="#1b4d8a"/>
<circle cx="182.20" cy="394.55" r="2.35" fill="#1b4d8a"/>
<circle cx="176.20" cy="375.92" r="2.35" fill="#1b4d8a"/>
<line x1="168.50" y1="398.50" x2="184.50" y2="398.50" stroke="#151515" stroke-width="1.0"/>
<line x1="172.50" y1="405.50" x2="180.50" y2="405.50" stroke="#151515" stroke-width="1.0"/>
<line x1="172.50" y1="390.50" x2="180.50" y2="390.50" stroke="#151515" stroke-width="1.0"/>
<line x1="176.50" y1="390.50" x2="176.50" y2="405.50" stroke="#151515" stroke-width="1.0"/>
<circle cx="195.50" cy="401.45" r="2.35" fill="#8f9fc9"/>
<circle cx="201.50" cy="391.10" r="2.35" fill="#8f9fc9"/>
<circle cx="201.50" cy="382.82" r="2.35" fill="#8f9fc9"/>
<circle cx="201.50" cy="401.45" r="2.35" fill="#8f9fc9"/>
<circle cx="207.50" cy="403.52" r="2.35" fill="#8f9fc9"/>
<circle cx="204.50" cy="392.48" r="2.35" fill="#8f9fc9"/>
<circle cx="201.50" cy="400.76" r="2.35" fill="#8f9fc9"/>
<circle cx="201.50" cy="394.55" r="2.35" fill="#8f9fc9"/>
<circle cx="201.50" cy="388.34" r="2.35" fill="#8f9fc9"/>
<circle cx="204.50" cy="396.62" r="2.35" fill="#8f9fc9"/>
<circle cx="198.50" cy="392.48" r="2.35" fill="#8f9fc9"/>
<circle cx="200.00" cy="415.25" r="2.35" fill="#8f9fc9"/>
<circle cx="207.50" cy="393.17" r="2.35" fill="#8f9fc9"/>
<circle cx="195.50" cy="402.83" r="2.35" fill="#8f9fc9"/>
<circle cx="201.50" cy="409.04" r="2.35" fill="#8f9fc9"/>
<circle cx="198.50" cy="402.14" r="2.35" fill="#8f9fc9"/>
<circle cx="204.50" cy="410.42" r="2.35" fill="#8f9fc9"/>
<circle cx="198.50" cy="410.42" r="2.35" fill="#8f9fc9"/>
<circle cx="203.00" cy="415.25" r="2.35" fill="#8f9fc9"/>
<circle cx="200.00" cy="406.28" r="2.35" fill="#8f9fc9"/>
<circle cx="203.00" cy="412.49" r="2.35" fill="#8f9fc9"/>
<circle cx="203.00" cy="407.66" r="2.35" fill="#8f9fc9"/>
<circle cx="198.50" cy="394.55" r="2.35" fill="#8f9fc9"/>
<circle cx="204.50" cy="400.76" r="2.35" fill="#8f9fc9"/>
<circle cx="200.00" cy="411.80" r="2.35" fill="#8f9fc9"/>
<circle cx="201.50" cy="397.31" r="2.35" fill="#8f9fc9"/>
<circle cx="195.50" cy="393.17" r="2.35" fill="#8f9fc9"/>
<circle cx="198.50" cy="400.76" r="2.35" fill="#8f9fc9"/>
<circle cx="207.50" cy="401.45" r="2.35" fill="#8f9fc9"/>
<circle cx="204.50" cy="402.14" r="2.35" fill="#8f9fc9"/>
<circle cx="201.50" cy="378.68" r="2.35" fill="#8f9fc9"/>
<circle cx="201.50" cy="418.70" r="2.35" fill="#8f9fc9"/>
<line x1="193.50" y1="401.50" x2="209.50" y2="401.50" stroke="#151515" stroke-width="1.0"/>
<line x1="197.50" y1="411.50" x2="205.50" y2="411.50" stroke="#151515" stroke-width="1.0"/>
<line x1="197.50" y1="391.50" x2="205.50" y2="391.50" stroke="#151515" stroke-width="1.0"/>
<line x1="201.50" y1="391.50" x2="201.50" y2="411.50" stroke="#151515" stroke-width="1.0"/>
<circle cx="230.10" cy="380.06" r="2.35" fill="#f4a7c7"/>
<circle cx="227.10" cy="387.65" r="2.35" fill="#f4a7c7"/>
<circle cx="230.10" cy="384.89" r="2.35" fill="#f4a7c7"/>
<circle cx="230.10" cy="393.86" r="2.35" fill="#f4a7c7"/>
<circle cx="230.10" cy="378.68" r="2.35" fill="#f4a7c7"/>
<circle cx="227.10" cy="412.49" r="2.35" fill="#f4a7c7"/>
<circle cx="227.10" cy="376.61" r="2.35" fill="#f4a7c7"/>
<circle cx="230.10" cy="395.93" r="2.35" fill="#f4a7c7"/>
<circle cx="221.10" cy="394.55" r="2.35" fill="#f4a7c7"/>
<circle cx="224.10" cy="406.28" r="2.35" fill="#f4a7c7"/>
<circle cx="224.10" cy="413.18" r="2.35" fill="#f4a7c7"/>
<circle cx="230.10" cy="398.00" r="2.35" fill="#f4a7c7"/>
<circle cx="227.10" cy="382.13" r="2.35" fill="#f4a7c7"/>
<circle cx="230.10" cy="387.65" r="2.35" fill="#f4a7c7"/>
<circle cx="221.10" cy="380.06" r="2.35" fill="#f4a7c7"/>
<circle cx="233.10" cy="394.55" r="2.35" fill="#f4a7c7"/>
<circle cx="221.10" cy="389.03" r="2.35" fill="#f4a7c7"/>
<circle cx="221.10" cy="393.86" r="2.35" fill="#f4a7c7"/>
<circle cx="230.10" cy="406.28" r="2.35" fill="#f4a7c7"/>
<circle cx="230.10" cy="393.17" r="2.35" fill="#f4a7c7"/>
<circle cx="221.10" cy="398.00" r="2.35" fill="#f4a7c7"/>
<circle cx="233.10" cy="381.44" r="2.35" fill="#f4a7c7"/>
<circle cx="227.10" cy="394.55" r="2.35" fill="#f4a7c7"/>
<circle cx="227.10" cy="392.48" r="2.35" fill="#f4a7c7"/>
<circle cx="227.10" cy="384.89" r="2.35" fill="#f4a7c7"/>
<circle cx="227.10" cy="379.37" r="2.35" fill="#f4a7c7"/>
<circle cx="224.10" cy="393.17" r="2.35" fill="#f4a7c7"/>
<circle cx="233.10" cy="393.86" r="2.35" fill="#f4a7c7"/>
<circle cx="225.60" cy="389.72" r="2.35" fill="#f4a7c7"/>
<circle cx="224.10" cy="377.99" r="2.35" fill="#f4a7c7"/>
<circle cx="227.10" cy="404.21" r="2.35" fill="#f4a7c7"/>
<circle cx="227.10" cy="406.97" r="2.35" fill="#f4a7c7"/>
<circle cx="227.10" cy="366.26" r="2.35" fill="#f4a7c7"/>
<circle cx="227.10" cy="393.86" r="2.35" fill="#f4a7c7"/>
<circle cx="228.60" cy="390.41" r="2.35" fill="#f4a7c7"/>
<circle cx="230.10" cy="413.18" r="2.35" fill="#f4a7c7"/>
<circle cx="227.10" cy="398.00" r="2.35" fill="#f4a7c7"/>
<circle cx="224.10" cy="393.86" r="2.35" fill="#f4a7c7"/>
<circle cx="233.10" cy="400.07" r="2.35" fill="#f4a7c7"/>
<circle cx="224.10" cy="398.00" r="2.35" fill="#f4a7c7"/>
<circle cx="224.10" cy="394.55" r="2.35" fill="#f4a7c7"/>
<circle cx="224.10" cy="387.65" r="2.35" fill="#f4a7c7"/>
<circle cx="224.10" cy="379.37" r="2.35" fill="#f4a7c7"/>
<circle cx="224.10" cy="409.04" r="2.35" fill="#f4a7c7"/>
<circle cx="230.10" cy="409.04" r="2.35" fill="#f4a7c7"/>
<circle cx="224.10" cy="384.89" r="2.35" fill="#f4a7c7"/>
<circle cx="233.10" cy="389.72" r="2.35" fill="#f4a7c7"/>
<circle cx="227.10" cy="329.00" r="2.35" fill="#f4a7c7"/>
<circle cx="227.10" cy="349.70" r="2.35" fill="#f4a7c7"/>
<circle cx="227.10" cy="356.60" r="2.35" fill="#f4a7c7"/>
<line x1="219.50" y1="389.50" x2="235.50" y2="389.50" stroke="#151515" stroke-width="1.0"/>
<line x1="223.50" y1="406.50" x2="231.50" y2="406.50" stroke="#151515" stroke-width="1.0"/>
<line x1="223.50" y1="372.50" x2="231.50" y2="372.50" stroke="#151515" stroke-width="1.0"/>
<line x1="227.50" y1="372.50" x2="227.50" y2="406.50" stroke="#151515" stroke-width="1.0"/>
<circle cx="255.50" cy="367.64" r="2.35" fill="#e2197c"/>
<circle cx="254.00" cy="406.28" r="2.35" fill="#e2197c"/>
<circle cx="254.00" cy="374.54" r="2.35" fill="#e2197c"/>
<circle cx="251.00" cy="343.49" r="2.35" fill="#e2197c"/>
<circle cx="257.00" cy="400.07" r="2.35" fill="#e2197c"/>
<circle cx="255.50" cy="363.50" r="2.35" fill="#e2197c"/>
<circle cx="248.00" cy="384.20" r="2.35" fill="#e2197c"/>
<circle cx="252.50" cy="346.25" r="2.35" fill="#e2197c"/>
<circle cx="254.00" cy="381.44" r="2.35" fill="#e2197c"/>
<circle cx="257.00" cy="384.20" r="2.35" fill="#e2197c"/>
<circle cx="254.00" cy="344.18" r="2.35" fill="#e2197c"/>
<circle cx="251.00" cy="351.08" r="2.35" fill="#e2197c"/>
<circle cx="251.00" cy="379.37" r="2.35" fill="#e2197c"/>
<circle cx="251.00" cy="406.28" r="2.35" fill="#e2197c"/>
<circle cx="252.50" cy="402.83" r="2.35" fill="#e2197c"/>
<circle cx="246.50" cy="365.57" r="2.35" fill="#e2197c"/>
<circle cx="252.50" cy="365.57" r="2.35" fill="#e2197c"/>
<circle cx="254.00" cy="398.69" r="2.35" fill="#e2197c"/>
<circle cx="254.00" cy="351.77" r="2.35" fill="#e2197c"/>
<circle cx="252.50" cy="364.19" r="2.35" fill="#e2197c"/>
<circle cx="251.00" cy="382.82" r="2.35" fill="#e2197c"/>
<circle cx="251.00" cy="375.92" r="2.35" fill="#e2197c"/>
<circle cx="249.50" cy="370.40" r="2.35" fill="#e2197c"/>
<circle cx="254.00" cy="383.51" r="2.35" fill="#e2197c"/>
<circle cx="252.50" cy="361.43" r="2.35" fill="#e2197c"/>
<circle cx="254.00" cy="376.61" r="2.35" fill="#e2197c"/>
<circle cx="248.00" cy="376.61" r="2.35" fill="#e2197c"/>
<circle cx="254.00" cy="357.29" r="2.35" fill="#e2197c"/>
<circle cx="255.50" cy="365.57" r="2.35" fill="#e2197c"/>
<circle cx="248.00" cy="399.38" r="2.35" fill="#e2197c"/>
<circle cx="251.00" cy="373.16" r="2.35" fill="#e2197c"/>
<circle cx="251.00" cy="392.48" r="2.35" fill="#e2197c"/>
<circle cx="255.50" cy="370.40" r="2.35" fill="#e2197c"/>
<circle cx="258.50" cy="365.57" r="2.35" fill="#e2197c"/>
<circle cx="251.00" cy="398.00" r="2.35" fill="#e2197c"/>
<circle cx="251.00" cy="356.60" r="2.35" fill="#e2197c"/>
<circle cx="252.50" cy="335.21" r="2.35" fill="#e2197c"/>
<circle cx="249.50" cy="366.95" r="2.35" fill="#e2197c"/>
<circle cx="254.00" cy="393.17" r="2.35" fill="#e2197c"/>
<circle cx="257.00" cy="376.61" r="2.35" fill="#e2197c"/>
<circle cx="252.50" cy="368.33" r="2.35" fill="#e2197c"/>
<circle cx="249.50" cy="364.88" r="2.35" fill="#e2197c"/>
<circle cx="249.50" cy="363.50" r="2.35" fill="#e2197c"/>
<circle cx="252.50" cy="386.27" r="2.35" fill="#e2197c"/>
<circle cx="252.50" cy="277.25" r="2.35" fill="#e2197c"/>
<circle cx="252.50" cy="282.08" r="2.35" fill="#e2197c"/>
<circle cx="252.50" cy="294.50" r="2.35" fill="#e2197c"/>
<circle cx="252.50" cy="308.30" r="2.35" fill="#e2197c"/>
<circle cx="252.50" cy="312.44" r="2.35" fill="#e2197c"/>
<line x1="244.50" y1="365.50" x2="260.50" y2="365.50" stroke="#151515" stroke-width="1.0"/>
<line x1="248.50" y1="396.50" x2="256.50" y2="396.50" stroke="#151515" stroke-width="1.0"/>
<line x1="248.50" y1="334.50" x2="256.50" y2="334.50" stroke="#151515" stroke-width="1.0"/>
<line x1="252.50" y1="334.50" x2="252.50" y2="396.50" stroke="#151515" stroke-width="1.0"/>
<polyline points="74.50,389.50 74.50,385.50 99.50,385.50 99.50,389.50" fill="none" stroke="#3a3a3a" stroke-width="1.0"/>
<text x="86.20" y="383.60" font-size="8.64" text-anchor="middle" fill="#1c1c1c" textLength="8.45" lengthAdjust="spacingAndGlyphs" >ns</text>
<polyline points="99.50,384.50 99.50,381.50 125.50,381.50 125.50,390.50" fill="none" stroke="#3a3a3a" stroke-width="1.0"/>
<text x="112.40" y="378.60" font-size="8.64" text-anchor="middle" fill="#1c1c1c" textLength="8.45" lengthAdjust="spacingAndGlyphs" >ns</text>
<polyline points="99.50,380.50 99.50,358.50 148.50,358.50 148.50,362.50" fill="none" stroke="#3a3a3a" stroke-width="1.0"/>
<text x="123.90" y="358.00" font-size="7.8" text-anchor="middle" fill="#111" >****</text>
<polyline points="73.50,383.50 73.50,330.50 176.50,330.50 176.50,366.50" fill="none" stroke="#3a3a3a" stroke-width="1.0"/>
<text x="124.80" y="329.90" font-size="7.8" text-anchor="middle" fill="#111" >****</text>
<polyline points="176.50,371.50 176.50,368.50 201.50,368.50 201.50,371.50" fill="none" stroke="#3a3a3a" stroke-width="1.0"/>
<text x="188.90" y="366.30" font-size="8.64" text-anchor="middle" fill="#1c1c1c" textLength="8.45" lengthAdjust="spacingAndGlyphs" >ns</text>
<polyline points="201.50,366.50 201.50,321.50 226.50,321.50 226.50,324.50" fill="none" stroke="#3a3a3a" stroke-width="1.0"/>
<text x="215.40" y="320.80" font-size="7.8" text-anchor="middle" fill="#111" >**</text>
<polyline points="201.50,318.50 201.50,267.50 250.50,267.50 250.50,270.50" fill="none" stroke="#3a3a3a" stroke-width="1.0"/>
<text x="225.90" y="266.50" font-size="7.8" text-anchor="middle" fill="#111" >****</text>
<text x="60.20" y="446.70" font-size="8.42" text-anchor="end" fill="#1c1c1c" textLength="38.15" lengthAdjust="spacingAndGlyphs" ><tspan font-style="italic">jagn1b</tspan> MO</text>
<text x="60.20" y="457.70" font-size="8.42" text-anchor="end" fill="#1c1c1c" textLength="23.4" lengthAdjust="spacingAndGlyphs" >DMSO</text>
<text x="60.20" y="468.70" font-size="8.42" text-anchor="end" fill="#1c1c1c" textLength="41.34" lengthAdjust="spacingAndGlyphs" >2.5 μM STS</text>
<text x="60.20" y="479.50" font-size="8.42" text-anchor="end" fill="#1c1c1c" textLength="34.83" lengthAdjust="spacingAndGlyphs" >5 μM STS</text>
<text x="60.20" y="490.60" font-size="8.42" text-anchor="end" fill="#1c1c1c" textLength="12.36" lengthAdjust="spacingAndGlyphs" >N =</text>
<text x="74.10" y="446.70" font-size="8.42" text-anchor="middle" fill="#1c1c1c" textLength="4.34" lengthAdjust="spacingAndGlyphs" >–</text>
<text x="99.40" y="446.70" font-size="8.42" text-anchor="middle" fill="#1c1c1c" textLength="4.34" lengthAdjust="spacingAndGlyphs" >–</text>
<text x="125.30" y="446.70" font-size="8.42" text-anchor="middle" fill="#1c1c1c" textLength="4.34" lengthAdjust="spacingAndGlyphs" >–</text>
<text x="150.90" y="446.70" font-size="8.42" text-anchor="middle" fill="#1c1c1c" textLength="4.34" lengthAdjust="spacingAndGlyphs" >–</text>
<text x="176.20" y="446.70" font-size="8.42" text-anchor="middle" fill="#1c1c1c" textLength="4.56" lengthAdjust="spacingAndGlyphs" >+</text>
<text x="201.50" y="446.70" font-size="8.42" text-anchor="middle" fill="#1c1c1c" textLength="4.56" lengthAdjust="spacingAndGlyphs" >+</text>
<text x="227.10" y="446.70" font-size="8.42" text-anchor="middle" fill="#1c1c1c" textLength="4.56" lengthAdjust="spacingAndGlyphs" >+</text>
<text x="252.50" y="446.70" font-size="8.42" text-anchor="middle" fill="#1c1c1c" textLength="4.56" lengthAdjust="spacingAndGlyphs" >+</text>
<text x="74.10" y="457.70" font-size="8.42" text-anchor="middle" fill="#1c1c1c" textLength="4.34" lengthAdjust="spacingAndGlyphs" >–</text>
<text x="99.40" y="457.70" font-size="8.42" text-anchor="middle" fill="#1c1c1c" textLength="4.56" lengthAdjust="spacingAndGlyphs" >+</text>
<text x="125.30" y="457.70" font-size="8.42" text-anchor="middle" fill="#1c1c1c" textLength="4.34" lengthAdjust="spacingAndGlyphs" >–</text>
<text x="150.90" y="457.70" font-size="8.42" text-anchor="middle" fill="#1c1c1c" textLength="4.34" lengthAdjust="spacingAndGlyphs" >–</text>
<text x="176.20" y="457.70" font-size="8.42" text-anchor="middle" fill="#1c1c1c" textLength="4.34" lengthAdjust="spacingAndGlyphs" >–</text>
<text x="201.50" y="457.70" font-size="8.42" text-anchor="middle" fill="#1c1c1c" textLength="4.56" lengthAdjust="spacingAndGlyphs" >+</text>
<text x="227.10" y="457.70" font-size="8.42" text-anchor="middle" fill="#1c1c1c" textLength="4.34" lengthAdjust="spacingAndGlyphs" >–</text>
<text x="252.50" y="457.70" font-size="8.42" text-anchor="middle" fill="#1c1c1c" textLength="4.34" lengthAdjust="spacingAndGlyphs" >–</text>
<text x="74.10" y="468.70" font-size="8.42" text-anchor="middle" fill="#1c1c1c" textLength="4.34" lengthAdjust="spacingAndGlyphs" >–</text>
<text x="99.40" y="468.70" font-size="8.42" text-anchor="middle" fill="#1c1c1c" textLength="4.34" lengthAdjust="spacingAndGlyphs" >–</text>
<text x="125.30" y="468.70" font-size="8.42" text-anchor="middle" fill="#1c1c1c" textLength="4.56" lengthAdjust="spacingAndGlyphs" >+</text>
<text x="150.90" y="468.70" font-size="8.42" text-anchor="middle" fill="#1c1c1c" textLength="4.34" lengthAdjust="spacingAndGlyphs" >–</text>
<text x="176.20" y="468.70" font-size="8.42" text-anchor="middle" fill="#1c1c1c" textLength="4.34" lengthAdjust="spacingAndGlyphs" >–</text>
<text x="201.50" y="468.70" font-size="8.42" text-anchor="middle" fill="#1c1c1c" textLength="4.34" lengthAdjust="spacingAndGlyphs" >–</text>
<text x="227.10" y="468.70" font-size="8.42" text-anchor="middle" fill="#1c1c1c" textLength="4.56" lengthAdjust="spacingAndGlyphs" >+</text>
<text x="252.50" y="468.70" font-size="8.42" text-anchor="middle" fill="#1c1c1c" textLength="4.34" lengthAdjust="spacingAndGlyphs" >–</text>
<text x="74.10" y="479.50" font-size="8.42" text-anchor="middle" fill="#1c1c1c" textLength="4.34" lengthAdjust="spacingAndGlyphs" >–</text>
<text x="99.40" y="479.50" font-size="8.42" text-anchor="middle" fill="#1c1c1c" textLength="4.34" lengthAdjust="spacingAndGlyphs" >–</text>
<text x="125.30" y="479.50" font-size="8.42" text-anchor="middle" fill="#1c1c1c" textLength="4.34" lengthAdjust="spacingAndGlyphs" >–</text>
<text x="150.90" y="479.50" font-size="8.42" text-anchor="middle" fill="#1c1c1c" textLength="4.56" lengthAdjust="spacingAndGlyphs" >+</text>
<text x="176.20" y="479.50" font-size="8.42" text-anchor="middle" fill="#1c1c1c" textLength="4.34" lengthAdjust="spacingAndGlyphs" >–</text>
<text x="201.50" y="479.50" font-size="8.42" text-anchor="middle" fill="#1c1c1c" textLength="4.34" lengthAdjust="spacingAndGlyphs" >–</text>
<text x="227.10" y="479.50" font-size="8.42" text-anchor="middle" fill="#1c1c1c" textLength="4.34" lengthAdjust="spacingAndGlyphs" >–</text>
<text x="252.50" y="479.50" font-size="8.42" text-anchor="middle" fill="#1c1c1c" textLength="4.56" lengthAdjust="spacingAndGlyphs" >+</text>
<text x="74.10" y="490.60" font-size="8.42" text-anchor="middle" fill="#1c1c1c" textLength="8.68" lengthAdjust="spacingAndGlyphs" >43</text>
<text x="99.40" y="490.60" font-size="8.42" text-anchor="middle" fill="#1c1c1c" textLength="8.68" lengthAdjust="spacingAndGlyphs" >37</text>
<text x="125.30" y="490.60" font-size="8.42" text-anchor="middle" fill="#1c1c1c" textLength="8.68" lengthAdjust="spacingAndGlyphs" >18</text>
<text x="150.90" y="490.60" font-size="8.42" text-anchor="middle" fill="#1c1c1c" textLength="8.68" lengthAdjust="spacingAndGlyphs" >41</text>
<text x="176.20" y="490.60" font-size="8.42" text-anchor="middle" fill="#1c1c1c" textLength="8.68" lengthAdjust="spacingAndGlyphs" >36</text>
<text x="201.50" y="490.60" font-size="8.42" text-anchor="middle" fill="#1c1c1c" textLength="8.68" lengthAdjust="spacingAndGlyphs" >32</text>
<text x="227.10" y="490.60" font-size="8.42" text-anchor="middle" fill="#1c1c1c" textLength="8.68" lengthAdjust="spacingAndGlyphs" >50</text>
<text x="252.50" y="490.60" font-size="8.42" text-anchor="middle" fill="#1c1c1c" textLength="8.68" lengthAdjust="spacingAndGlyphs" >49</text>
<g clip-path="url(#cA1)">
<rect x="177" y="27.2" width="113.80000000000001" height="47.2" fill="url(#bgA)"/>
<path d="M170,37.5 C200,38 240,40.5 262,44 C273,46.5 280,49.5 283,52.5 C276,54.5 265,55.5 250,56 C220,56.5 195,56.5 170,56.5 Z" fill="#dcc6a8" filter="url(#b1)"/>
<path d="M170,39.8 C200,40.3 240,42.5 262,46 C271,48 277,50.5 280,52.5 C275,53.5 265,54 250,54.2 C220,54.6 195,54.6 170,54.6 Z" fill="#e0a840" filter="url(#b1)"/>
<path d="M170,41 C200,41.5 230,43.5 258,47 L258,48.5 C230,47 200,46.5 170,46.5 Z" fill="#d99c32" filter="url(#b1)"/>
<path d="M170,47.4 C200,47.8 235,48.8 265,50.8 L265,52 C235,51.3 200,50.9 170,50.8 Z" fill="#f0c878" filter="url(#b1)"/>
<circle cx="181.8" cy="60.8" r="5.6" fill="#76603f" filter="url(#b05)"/>
<circle cx="181.4" cy="60.6" r="3.9" fill="#a8946f" filter="url(#b05)"/>
</g>
<rect x="177.9" y="28.099999999999998" width="112.00000000000001" height="45.400000000000006" fill="none" stroke="#24584a" stroke-width="1.8"/>
<g clip-path="url(#cA2)">
<rect x="177" y="79.6" width="113.80000000000001" height="46.2" fill="url(#bgA)"/>
<path d="M170,95.3 C205,95.5 240,96.5 262,99 C275,101 283,103.5 286.5,105 C280,107 268,109.5 250,111 C220,112.2 195,112.2 170,112.2 Z" fill="#e2ac44" filter="url(#b1)"/>
<path d="M170,102.5 C205,102.5 240,103.5 265,105 L265,106.5 C240,107 205,107.5 170,107.5 Z" fill="#d49a36" filter="url(#b05)"/>
<circle cx="239.4" cy="108.7" r="0.5" fill="#a07830" opacity="0.7"/>
<circle cx="253.7" cy="99.9" r="0.5" fill="#a07830" opacity="0.7"/>
<circle cx="208.5" cy="108.4" r="0.5" fill="#a07830" opacity="0.7"/>
<circle cx="180.5" cy="107.7" r="0.5" fill="#a07830" opacity="0.7"/>
<circle cx="255.7" cy="103.1" r="0.5" fill="#a07830" opacity="0.7"/>
<circle cx="208.8" cy="100.6" r="0.5" fill="#a07830" opacity="0.7"/>
<circle cx="204.2" cy="102.8" r="0.5" fill="#a07830" opacity="0.7"/>
<circle cx="227.9" cy="104.2" r="0.5" fill="#a07830" opacity="0.7"/>
<circle cx="274.6" cy="107.3" r="0.5" fill="#a07830" opacity="0.7"/>
<circle cx="239.1" cy="109.9" r="0.5" fill="#a07830" opacity="0.7"/>
<circle cx="200.5" cy="99.1" r="0.5" fill="#a07830" opacity="0.7"/>
<circle cx="238.2" cy="97.6" r="0.5" fill="#a07830" opacity="0.7"/>
<circle cx="183.4" cy="103.7" r="0.5" fill="#a07830" opacity="0.7"/>
<circle cx="224.3" cy="108.9" r="0.5" fill="#a07830" opacity="0.7"/>
<circle cx="239.8" cy="103.7" r="0.5" fill="#a07830" opacity="0.7"/>
<circle cx="227.2" cy="100.2" r="0.5" fill="#a07830" opacity="0.7"/>
<circle cx="181.1" cy="99.5" r="0.5" fill="#a07830" opacity="0.7"/>
<circle cx="245.7" cy="99.6" r="0.5" fill="#a07830" opacity="0.7"/>
<circle cx="215.1" cy="97.0" r="0.5" fill="#a07830" opacity="0.7"/>
<circle cx="258.9" cy="99.0" r="0.5" fill="#a07830" opacity="0.7"/>
<circle cx="205.4" cy="108.4" r="0.5" fill="#a07830" opacity="0.7"/>
<circle cx="228.4" cy="108.0" r="0.5" fill="#a07830" opacity="0.7"/>
<circle cx="240.8" cy="106.6" r="0.5" fill="#a07830" opacity="0.7"/>
<circle cx="188.7" cy="104.0" r="0.5" fill="#a07830" opacity="0.7"/>
<circle cx="228.2" cy="108.3" r="0.5" fill="#a07830" opacity="0.7"/>
<circle cx="214.3" cy="104.8" r="0.5" fill="#a07830" opacity="0.7"/>
<circle cx="185.6" cy="102.0" r="0.5" fill="#a07830" opacity="0.7"/>
<circle cx="210.7" cy="99.0" r="0.5" fill="#a07830" opacity="0.7"/>
<circle cx="257.6" cy="101.9" r="0.5" fill="#a07830" opacity="0.7"/>
<circle cx="273.0" cy="104.7" r="0.5" fill="#a07830" opacity="0.7"/>
<circle cx="237.5" cy="105.3" r="0.5" fill="#a07830" opacity="0.7"/>
<circle cx="244.3" cy="99.0" r="0.5" fill="#a07830" opacity="0.7"/>
<circle cx="221.8" cy="100.1" r="0.5" fill="#a07830" opacity="0.7"/>
<circle cx="218.2" cy="98.3" r="0.5" fill="#a07830" opacity="0.7"/>
<circle cx="271.9" cy="99.8" r="0.5" fill="#a07830" opacity="0.7"/>
<circle cx="243.8" cy="100.9" r="0.5" fill="#a07830" opacity="0.7"/>
<circle cx="263.0" cy="105.6" r="0.5" fill="#a07830" opacity="0.7"/>
<circle cx="192.5" cy="108.0" r="0.5" fill="#a07830" opacity="0.7"/>
<circle cx="269.8" cy="108.8" r="0.5" fill="#a07830" opacity="0.7"/>
<circle cx="234.1" cy="98.9" r="0.5" fill="#a07830" opacity="0.7"/>
<circle cx="179.5" cy="114" r="2.8" fill="#8a7458" filter="url(#b05)"/>
<line x1="244.2" y1="95.5" x2="244.2" y2="112.5" stroke="#f7efd8" stroke-width="0.7"/>
<line x1="259.6" y1="95.5" x2="259.6" y2="112.5" stroke="#f7efd8" stroke-width="0.7"/>
</g>
<g clip-path="url(#cA3)">
<rect x="177" y="131.3" width="114.19999999999999" height="46.599999999999994" fill="#ccd0da"/>
<rect x="177" y="161.3" width="114.19999999999999" height="16.599999999999994" fill="#d4d6dd" filter="url(#b1)"/>
<path d="M170,143 C205,142.5 240,144 262,147 L262,149 C240,147 205,146 170,146 Z" fill="#e6caa6" filter="url(#b05)"/>
<path d="M170,145.8 C205,145.5 240,146.5 262,149.5 C272,151.5 279,153.5 281,155 C275,157 264,160 252,161.5 C235,162.5 215,162.8 205,163.5 C197,165 192,170 189,177 L170,179 Z" fill="#e2a433" filter="url(#b1)"/>
<path d="M170,145.5 C205,145 240,146 260,148.5 L260,150 C240,148 205,147.5 170,148 Z" fill="#d98e1c" filter="url(#b05)"/>
<path d="M179,161 C185,161 190,164 191.5,169 C190.5,173 189,176 188,178 L180,178 Z" fill="#b39474" filter="url(#b1)"/>
<circle cx="262.7" cy="150.7" r="0.5" fill="#a07020" opacity="0.6"/>
<circle cx="237.3" cy="157.1" r="0.5" fill="#a07020" opacity="0.6"/>
<circle cx="248.0" cy="158.9" r="0.5" fill="#a07020" opacity="0.6"/>
<circle cx="261.7" cy="158.9" r="0.5" fill="#a07020" opacity="0.6"/>
<circle cx="182.5" cy="152.7" r="0.5" fill="#a07020" opacity="0.6"/>
<circle cx="226.1" cy="147.8" r="0.5" fill="#a07020" opacity="0.6"/>
<circle cx="180.5" cy="157.8" r="0.5" fill="#a07020" opacity="0.6"/>
<circle cx="273.4" cy="157.2" r="0.5" fill="#a07020" opacity="0.6"/>
<circle cx="210.0" cy="156.2" r="0.5" fill="#a07020" opacity="0.6"/>
<circle cx="208.4" cy="156.6" r="0.5" fill="#a07020" opacity="0.6"/>
<circle cx="206.6" cy="157.2" r="0.5" fill="#a07020" opacity="0.6"/>
<circle cx="273.8" cy="159.8" r="0.5" fill="#a07020" opacity="0.6"/>
<circle cx="263.9" cy="158.9" r="0.5" fill="#a07020" opacity="0.6"/>
<circle cx="247.3" cy="154.2" r="0.5" fill="#a07020" opacity="0.6"/>
<circle cx="267.7" cy="148.2" r="0.5" fill="#a07020" opacity="0.6"/>
<circle cx="215.2" cy="154.9" r="0.5" fill="#a07020" opacity="0.6"/>
<circle cx="225.4" cy="157.3" r="0.5" fill="#a07020" opacity="0.6"/>
<circle cx="198.5" cy="147.8" r="0.5" fill="#a07020" opacity="0.6"/>
<circle cx="192.0" cy="159.5" r="0.5" fill="#a07020" opacity="0.6"/>
<circle cx="192.6" cy="149.9" r="0.5" fill="#a07020" opacity="0.6"/>
<circle cx="215.8" cy="155.1" r="0.5" fill="#a07020" opacity="0.6"/>
<circle cx="254.3" cy="148.0" r="0.5" fill="#a07020" opacity="0.6"/>
<circle cx="268.5" cy="156.9" r="0.5" fill="#a07020" opacity="0.6"/>
<circle cx="210.5" cy="149.5" r="0.5" fill="#a07020" opacity="0.6"/>
<circle cx="236.6" cy="154.7" r="0.5" fill="#a07020" opacity="0.6"/>
<circle cx="205.4" cy="149.2" r="0.5" fill="#a07020" opacity="0.6"/>
<circle cx="252.8" cy="155.7" r="0.5" fill="#a07020" opacity="0.6"/>
<circle cx="256.0" cy="149.9" r="0.5" fill="#a07020" opacity="0.6"/>
<circle cx="248.7" cy="148.0" r="0.5" fill="#a07020" opacity="0.6"/>
<circle cx="180.7" cy="149.3" r="0.5" fill="#a07020" opacity="0.6"/>
<circle cx="254.3" cy="154.0" r="0.5" fill="#a07020" opacity="0.6"/>
<circle cx="238.6" cy="154.7" r="0.5" fill="#a07020" opacity="0.6"/>
<circle cx="240.4" cy="151.2" r="0.5" fill="#a07020" opacity="0.6"/>
<circle cx="248.5" cy="147.2" r="0.5" fill="#a07020" opacity="0.6"/>
<circle cx="215.8" cy="147.7" r="0.5" fill="#a07020" opacity="0.6"/>
<circle cx="192.0" cy="158.8" r="0.5" fill="#a07020" opacity="0.6"/>
<circle cx="237.2" cy="157.3" r="0.5" fill="#a07020" opacity="0.6"/>
<circle cx="237.5" cy="154.4" r="0.5" fill="#a07020" opacity="0.6"/>
<circle cx="255.5" cy="155.1" r="0.5" fill="#a07020" opacity="0.6"/>
<circle cx="228.5" cy="154.2" r="0.5" fill="#a07020" opacity="0.6"/>
<circle cx="234.0" cy="151.4" r="0.5" fill="#a07020" opacity="0.6"/>
<circle cx="243.4" cy="152.3" r="0.5" fill="#a07020" opacity="0.6"/>
<circle cx="242.2" cy="153.3" r="0.5" fill="#a07020" opacity="0.6"/>
<circle cx="251.1" cy="156.0" r="0.5" fill="#a07020" opacity="0.6"/>
<circle cx="183.7" cy="157.2" r="0.5" fill="#a07020" opacity="0.6"/>
</g>
<rect x="177.9" y="132.20000000000002" width="112.39999999999999" height="44.8" fill="none" stroke="#223f6a" stroke-width="1.8"/>
<clipPath id="ci1"><rect x="304" y="32.1" width="35.10000000000002" height="35.49999999999999"/></clipPath>
<g clip-path="url(#ci1)"><g transform="translate(304 32.1)">
<rect width="35.10000000000002" height="35.49999999999999" fill="#dcc4a8"/>
<rect x="-3" y="8.519999999999998" width="41.10000000000002" height="7.099999999999999" fill="#eba040" filter="url(#b1)"/>
<rect x="-3" y="17.749999999999996" width="41.10000000000002" height="4.614999999999999" fill="#e6b060" filter="url(#b1)"/>
<circle cx="22.5" cy="12.8" r="1.8" fill="none" stroke="#6e6420" stroke-width="1.0"/>
<circle cx="25.6" cy="10.2" r="1.8" fill="none" stroke="#6e6420" stroke-width="1.0"/>
<circle cx="28.7" cy="24.3" r="1.9" fill="none" stroke="#6e6420" stroke-width="1.0"/>
</g></g>
<rect x="304.95" y="33.050000000000004" width="33.200000000000024" height="33.599999999999994" fill="none" stroke="#1d5a4b" stroke-width="1.9"/>
<clipPath id="ci2"><rect x="304" y="86.9" width="34.89999999999998" height="34.69999999999999"/></clipPath>
<g clip-path="url(#ci2)"><g transform="translate(304 86.9)">
<rect width="34.89999999999998" height="34.69999999999999" fill="#d4b27a"/>
<rect x="-3" y="5.551999999999999" width="40.89999999999998" height="27.065999999999992" fill="#e2a444" filter="url(#b1)"/>
<rect x="4" y="6.939999999999998" width="3" height="24.289999999999992" fill="#e8902a" filter="url(#b05)"/>
<circle cx="9" cy="8.6" r="1.6" fill="none" stroke="#f6e6b0" stroke-width="0.7"/>
<circle cx="12" cy="10.6" r="1.6" fill="none" stroke="#f6e6b0" stroke-width="0.7"/>
<circle cx="14" cy="13.6" r="1.6" fill="none" stroke="#f6e6b0" stroke-width="0.7"/>
</g></g>
<rect x="304.7" y="87.60000000000001" width="33.49999999999998" height="33.29999999999999" fill="none" stroke="#b9b9b9" stroke-width="1.4"/>
<clipPath id="ci3"><rect x="303.6" y="136.2" width="35.19999999999999" height="35.20000000000002"/></clipPath>
<g clip-path="url(#ci3)"><g transform="translate(303.6 136.2)">
<rect width="35.19999999999999" height="35.20000000000002" fill="#d8c09c"/>
<rect x="-3" y="5.280000000000002" width="41.19999999999999" height="21.120000000000008" fill="#e0a63c" filter="url(#b1)"/>
<circle cx="3.0" cy="11.1" r="0.8" fill="#8a7a70" opacity="0.6"/>
<circle cx="28.2" cy="19.6" r="0.8" fill="#8a7a70" opacity="0.6"/>
<circle cx="3.3" cy="16.0" r="0.8" fill="#8a7a70" opacity="0.6"/>
<circle cx="16.9" cy="9.2" r="0.8" fill="#8a7a70" opacity="0.6"/>
<circle cx="25.9" cy="8.1" r="0.8" fill="#8a7a70" opacity="0.6"/>
<circle cx="13.8" cy="18.0" r="0.8" fill="#8a7a70" opacity="0.6"/>
<circle cx="15.2" cy="19.7" r="0.8" fill="#8a7a70" opacity="0.6"/>
<circle cx="26.0" cy="28.8" r="0.8" fill="#8a7a70" opacity="0.6"/>
<circle cx="10.0" cy="21.3" r="0.8" fill="#8a7a70" opacity="0.6"/>
<circle cx="24.5" cy="12.5" r="0.8" fill="#8a7a70" opacity="0.6"/>
<circle cx="0.1" cy="29.3" r="0.8" fill="#8a7a70" opacity="0.6"/>
<circle cx="10.5" cy="13.0" r="0.8" fill="#8a7a70" opacity="0.6"/>
<circle cx="31.4" cy="19.7" r="0.8" fill="#8a7a70" opacity="0.6"/>
<circle cx="16.6" cy="24.3" r="0.8" fill="#8a7a70" opacity="0.6"/>
</g></g>
<rect x="304.55" y="137.14999999999998" width="33.29999999999999" height="33.30000000000002" fill="none" stroke="#1f3f6e" stroke-width="1.9"/>
<rect x="244.3" y="42.1" width="15.1" height="16.199999999999996" fill="none" stroke="#1d5a4b" stroke-width="0.9"/>
<line x1="259.40" y1="42.10" x2="304.20" y2="32.60" stroke="#1d5a4b" stroke-width="0.9"/>
<line x1="259.40" y1="58.30" x2="304.20" y2="67.10" stroke="#1d5a4b" stroke-width="0.9"/>
<rect x="244.3" y="145.2" width="15.1" height="17.0" fill="none" stroke="#1f3f6e" stroke-width="0.9"/>
<line x1="259.40" y1="145.20" x2="303.80" y2="136.70" stroke="#1f3f6e" stroke-width="0.9"/>
<line x1="259.40" y1="162.20" x2="303.80" y2="170.90" stroke="#1f3f6e" stroke-width="0.9"/>
<line x1="290.80" y1="91.20" x2="304.20" y2="87.50" stroke="#a8a8a8" stroke-width="0.8"/>
<line x1="290.80" y1="118.60" x2="304.20" y2="121.00" stroke="#a8a8a8" stroke-width="0.8"/>
<line x1="276.40" y1="67.50" x2="285.20" y2="67.50" stroke="#4a4a4a" stroke-width="1.0"/>
<line x1="276.40" y1="120.50" x2="285.20" y2="120.50" stroke="#4a4a4a" stroke-width="1.0"/>
<line x1="276.40" y1="172.50" x2="285.20" y2="172.50" stroke="#4a4a4a" stroke-width="1.0"/>
<text x="173.00" y="50.80" font-size="7.9" text-anchor="middle" fill="#2a2a2a" transform="rotate(-90 173.00 50.80)" >Wild-type</text>
<text x="173.00" y="102.80" font-size="7.9" text-anchor="middle" fill="#2a2a2a" transform="rotate(-90 173.00 102.80)" >ΔT12-G14</text>
<text x="173.00" y="154.60" font-size="7.9" text-anchor="middle" fill="#2a2a2a" transform="rotate(-90 173.00 154.60)" ><tspan font-style="italic">jagn1b</tspan> MO</text>
<svg x="322.4" y="280.2" width="92.40000000000003" height="47.60000000000002" viewBox="0 0 92.40 47.60" overflow="hidden">
<rect width="92.40000000000003" height="47.60000000000002" fill="url(#bgD)"/>
<path d="M0,17.136000000000006 C18.480000000000008,12.376000000000007 36.960000000000015,9.520000000000005 55.44000000000002,10.472000000000005 C69.30000000000003,11.424000000000005 78.54000000000002,19.04000000000001 83.16000000000004,26.180000000000014 C64.68000000000002,23.80000000000001 46.20000000000002,24.752000000000013 32.34000000000001,29.512000000000015 C23.10000000000001,34.27200000000001 18.480000000000008,38.08000000000002 13.860000000000005,42.840000000000025 L0,45.22000000000002 Z" fill="url(#fishG)" filter="url(#b1)"/>
<path d="M0,28.560000000000013 C9.240000000000004,29.512000000000015 18.480000000000008,31.416000000000018 25.87200000000001,33.320000000000014 C18.480000000000008,38.08000000000002 9.240000000000004,42.840000000000025 0,45.69600000000002 Z" fill="#c6bac4" opacity="0.9" filter="url(#b1)"/>
<path d="M0,17.61200000000001 C18.480000000000008,12.852000000000007 36.960000000000015,9.996000000000004 55.44000000000002,10.948000000000006 C66.52800000000002,11.900000000000006 73.92000000000003,14.280000000000006 79.46400000000003,18.088000000000008" fill="none" stroke="#d4cfd8" stroke-width="0.7" filter="url(#b05)"/>
<ellipse cx="8.71" cy="32.89" rx="1.19" ry="1.09" fill="#4a3c84" opacity="0.59"/>
<ellipse cx="10.55" cy="33.23" rx="1.20" ry="0.80" fill="#4a3c84" opacity="0.60"/>
<ellipse cx="12.03" cy="32.01" rx="1.00" ry="0.66" fill="#4a3c84" opacity="0.55"/>
<ellipse cx="14.24" cy="31.32" rx="1.50" ry="0.61" fill="#4a3c84" opacity="0.71"/>
<ellipse cx="17.41" cy="30.59" rx="0.91" ry="0.72" fill="#4a3c84" opacity="0.66"/>
<ellipse cx="19.74" cy="30.64" rx="1.13" ry="0.99" fill="#4a3c84" opacity="0.55"/>
<ellipse cx="22.17" cy="30.01" rx="1.32" ry="0.62" fill="#4a3c84" opacity="0.57"/>
<ellipse cx="26.66" cy="28.90" rx="1.11" ry="1.05" fill="#4a3c84" opacity="0.80"/>
<ellipse cx="27.48" cy="28.22" rx="1.54" ry="0.77" fill="#4a3c84" opacity="0.67"/>
<ellipse cx="32.13" cy="27.11" rx="1.10" ry="1.05" fill="#4a3c84" opacity="0.57"/>
<ellipse cx="31.36" cy="26.40" rx="1.27" ry="0.85" fill="#4a3c84" opacity="0.60"/>
<ellipse cx="33.63" cy="26.54" rx="0.90" ry="1.03" fill="#4a3c84" opacity="0.85"/>
<ellipse cx="37.28" cy="26.30" rx="1.20" ry="0.79" fill="#4a3c84" opacity="0.81"/>
<ellipse cx="40.03" cy="24.97" rx="1.13" ry="1.03" fill="#4a3c84" opacity="0.66"/>
<ellipse cx="41.12" cy="24.82" rx="1.38" ry="0.64" fill="#4a3c84" opacity="0.52"/>
<ellipse cx="44.40" cy="23.82" rx="1.32" ry="0.77" fill="#4a3c84" opacity="0.80"/>
<ellipse cx="45.89" cy="23.20" rx="1.13" ry="1.00" fill="#4a3c84" opacity="0.53"/>
<ellipse cx="47.92" cy="22.62" rx="1.07" ry="0.92" fill="#4a3c84" opacity="0.83"/>
<circle cx="11.63" cy="32.95" r="0.45" fill="#4a3c84" opacity="0.6"/>
<circle cx="8.05" cy="31.79" r="0.45" fill="#4a3c84" opacity="0.6"/>
<circle cx="11.29" cy="32.64" r="0.45" fill="#4a3c84" opacity="0.6"/>
<circle cx="11.15" cy="31.17" r="0.45" fill="#4a3c84" opacity="0.6"/>
<circle cx="12.82" cy="31.34" r="0.45" fill="#4a3c84" opacity="0.6"/>
<circle cx="15.86" cy="31.52" r="0.45" fill="#4a3c84" opacity="0.6"/>
<circle cx="17.60" cy="33.15" r="0.45" fill="#4a3c84" opacity="0.6"/>
<circle cx="17.79" cy="31.89" r="0.45" fill="#4a3c84" opacity="0.6"/>
<circle cx="15.76" cy="32.42" r="0.45" fill="#4a3c84" opacity="0.6"/>
<circle cx="20.79" cy="30.52" r="0.45" fill="#4a3c84" opacity="0.6"/>
<circle cx="17.97" cy="28.77" r="0.45" fill="#4a3c84" opacity="0.6"/>
<circle cx="19.63" cy="28.47" r="0.45" fill="#4a3c84" opacity="0.6"/>
<circle cx="24.84" cy="30.06" r="0.45" fill="#4a3c84" opacity="0.6"/>
<circle cx="25.09" cy="28.45" r="0.45" fill="#4a3c84" opacity="0.6"/>
<circle cx="26.02" cy="30.16" r="0.45" fill="#4a3c84" opacity="0.6"/>
<circle cx="27.30" cy="27.90" r="0.45" fill="#4a3c84" opacity="0.6"/>
<circle cx="26.65" cy="27.27" r="0.45" fill="#4a3c84" opacity="0.6"/>
<circle cx="25.74" cy="26.46" r="0.45" fill="#4a3c84" opacity="0.6"/>
<circle cx="29.00" cy="27.29" r="0.45" fill="#4a3c84" opacity="0.6"/>
<circle cx="28.99" cy="26.41" r="0.45" fill="#4a3c84" opacity="0.6"/>
<circle cx="32.91" cy="28.05" r="0.45" fill="#4a3c84" opacity="0.6"/>
<circle cx="33.97" cy="27.65" r="0.45" fill="#4a3c84" opacity="0.6"/>
<circle cx="33.95" cy="28.11" r="0.45" fill="#4a3c84" opacity="0.6"/>
<circle cx="35.08" cy="25.91" r="0.45" fill="#4a3c84" opacity="0.6"/>
<circle cx="36.52" cy="27.01" r="0.45" fill="#4a3c84" opacity="0.6"/>
<circle cx="36.08" cy="25.12" r="0.45" fill="#4a3c84" opacity="0.6"/>
<circle cx="36.90" cy="25.45" r="0.45" fill="#4a3c84" opacity="0.6"/>
<circle cx="39.33" cy="27.04" r="0.45" fill="#4a3c84" opacity="0.6"/>
<circle cx="39.28" cy="24.55" r="0.45" fill="#4a3c84" opacity="0.6"/>
<circle cx="44.59" cy="27.39" r="0.45" fill="#4a3c84" opacity="0.6"/>
<circle cx="39.64" cy="24.44" r="0.45" fill="#4a3c84" opacity="0.6"/>
<circle cx="42.01" cy="22.18" r="0.45" fill="#4a3c84" opacity="0.6"/>
<circle cx="46.37" cy="23.79" r="0.45" fill="#4a3c84" opacity="0.6"/>
<circle cx="50.13" cy="22.07" r="0.45" fill="#4a3c84" opacity="0.6"/>
<circle cx="48.76" cy="23.29" r="0.45" fill="#4a3c84" opacity="0.6"/>
<circle cx="50.43" cy="21.29" r="0.45" fill="#4a3c84" opacity="0.6"/>
<circle cx="63.85" cy="14.82" r="0.5" fill="#4a3c84" opacity="0.45"/>
<circle cx="55.32" cy="19.20" r="0.5" fill="#4a3c84" opacity="0.45"/>
<circle cx="56.13" cy="18.18" r="0.5" fill="#4a3c84" opacity="0.45"/>
<circle cx="63.15" cy="12.04" r="0.5" fill="#4a3c84" opacity="0.45"/>
<circle cx="53.02" cy="20.13" r="0.5" fill="#4a3c84" opacity="0.45"/>
<circle cx="66.13" cy="16.33" r="0.5" fill="#4a3c84" opacity="0.45"/>
<circle cx="67.98" cy="15.78" r="0.5" fill="#4a3c84" opacity="0.45"/>
<circle cx="59.58" cy="20.16" r="0.5" fill="#4a3c84" opacity="0.45"/>
<circle cx="68.34" cy="18.23" r="0.5" fill="#4a3c84" opacity="0.45"/>
<circle cx="61.07" cy="20.20" r="0.5" fill="#4a3c84" opacity="0.45"/>
</svg>
<rect x="323.29999999999995" y="281.09999999999997" width="90.60000000000004" height="45.800000000000026" fill="none" stroke="#1d6050" stroke-width="1.8"/>
<svg x="419.0" y="280.2" width="91.80000000000001" height="47.60000000000002" viewBox="0 0 91.80 47.60" overflow="hidden">
<rect width="91.80000000000001" height="47.60000000000002" fill="url(#bgD)"/>
<path d="M0,17.136000000000006 C18.360000000000003,12.376000000000007 36.720000000000006,9.520000000000005 55.080000000000005,10.472000000000005 C68.85000000000001,11.424000000000005 78.03,19.04000000000001 82.62000000000002,26.180000000000014 C64.26,23.80000000000001 45.900000000000006,24.752000000000013 32.13,29.512000000000015 C22.950000000000003,34.27200000000001 18.360000000000003,38.08000000000002 13.770000000000001,42.840000000000025 L0,45.22000000000002 Z" fill="url(#fishG)" filter="url(#b1)"/>
<path d="M0,28.560000000000013 C9.180000000000001,29.512000000000015 18.360000000000003,31.416000000000018 25.704000000000004,33.320000000000014 C18.360000000000003,38.08000000000002 9.180000000000001,42.840000000000025 0,45.69600000000002 Z" fill="#c6bac4" opacity="0.9" filter="url(#b1)"/>
<path d="M0,17.61200000000001 C18.360000000000003,12.852000000000007 36.720000000000006,9.996000000000004 55.080000000000005,10.948000000000006 C66.096,11.900000000000006 73.44000000000001,14.280000000000006 78.94800000000001,18.088000000000008" fill="none" stroke="#d4cfd8" stroke-width="0.7" filter="url(#b05)"/>
<ellipse cx="11.47" cy="29.90" rx="0.93" ry="0.71" fill="#3c2e6c" opacity="0.78"/>
<ellipse cx="13.13" cy="29.29" rx="1.36" ry="0.81" fill="#3c2e6c" opacity="0.68"/>
<ellipse cx="15.85" cy="29.81" rx="0.84" ry="0.97" fill="#3c2e6c" opacity="0.65"/>
<ellipse cx="16.93" cy="30.43" rx="1.07" ry="1.07" fill="#3c2e6c" opacity="0.71"/>
<ellipse cx="19.42" cy="30.02" rx="0.91" ry="0.63" fill="#3c2e6c" opacity="0.54"/>
<ellipse cx="23.48" cy="28.40" rx="0.85" ry="0.84" fill="#3c2e6c" opacity="0.63"/>
<ellipse cx="23.63" cy="26.81" rx="1.20" ry="0.92" fill="#3c2e6c" opacity="0.80"/>
<ellipse cx="25.97" cy="27.10" rx="1.04" ry="0.72" fill="#3c2e6c" opacity="0.55"/>
<ellipse cx="29.09" cy="27.06" rx="1.60" ry="0.76" fill="#3c2e6c" opacity="0.84"/>
<ellipse cx="30.36" cy="25.73" rx="0.78" ry="0.63" fill="#3c2e6c" opacity="0.66"/>
<ellipse cx="32.92" cy="26.13" rx="0.73" ry="1.01" fill="#3c2e6c" opacity="0.54"/>
<ellipse cx="34.23" cy="25.44" rx="1.12" ry="0.76" fill="#3c2e6c" opacity="0.80"/>
<ellipse cx="35.63" cy="24.37" rx="1.09" ry="0.78" fill="#3c2e6c" opacity="0.78"/>
<ellipse cx="38.09" cy="24.81" rx="1.08" ry="0.96" fill="#3c2e6c" opacity="0.84"/>
<ellipse cx="40.90" cy="23.04" rx="1.26" ry="1.10" fill="#3c2e6c" opacity="0.82"/>
<ellipse cx="42.43" cy="24.97" rx="1.19" ry="0.84" fill="#3c2e6c" opacity="0.66"/>
<ellipse cx="43.72" cy="23.41" rx="1.17" ry="0.62" fill="#3c2e6c" opacity="0.71"/>
<ellipse cx="45.36" cy="23.28" rx="1.04" ry="1.02" fill="#3c2e6c" opacity="0.71"/>
<ellipse cx="48.95" cy="20.48" rx="1.20" ry="0.68" fill="#3c2e6c" opacity="0.70"/>
<ellipse cx="51.07" cy="20.70" rx="1.39" ry="1.01" fill="#3c2e6c" opacity="0.54"/>
<circle cx="10.95" cy="31.45" r="0.45" fill="#3c2e6c" opacity="0.6"/>
<circle cx="15.05" cy="32.05" r="0.45" fill="#3c2e6c" opacity="0.6"/>
<circle cx="13.45" cy="31.03" r="0.45" fill="#3c2e6c" opacity="0.6"/>
<circle cx="15.56" cy="32.19" r="0.45" fill="#3c2e6c" opacity="0.6"/>
<circle cx="14.68" cy="31.48" r="0.45" fill="#3c2e6c" opacity="0.6"/>
<circle cx="17.61" cy="29.09" r="0.45" fill="#3c2e6c" opacity="0.6"/>
<circle cx="22.03" cy="32.10" r="0.45" fill="#3c2e6c" opacity="0.6"/>
<circle cx="16.49" cy="29.09" r="0.45" fill="#3c2e6c" opacity="0.6"/>
<circle cx="21.24" cy="30.47" r="0.45" fill="#3c2e6c" opacity="0.6"/>
<circle cx="19.08" cy="29.14" r="0.45" fill="#3c2e6c" opacity="0.6"/>
<circle cx="22.43" cy="26.91" r="0.45" fill="#3c2e6c" opacity="0.6"/>
<circle cx="24.37" cy="27.08" r="0.45" fill="#3c2e6c" opacity="0.6"/>
<circle cx="24.01" cy="26.10" r="0.45" fill="#3c2e6c" opacity="0.6"/>
<circle cx="25.84" cy="28.26" r="0.45" fill="#3c2e6c" opacity="0.6"/>
<circle cx="25.58" cy="25.80" r="0.45" fill="#3c2e6c" opacity="0.6"/>
<circle cx="27.12" cy="27.37" r="0.45" fill="#3c2e6c" opacity="0.6"/>
<circle cx="28.41" cy="26.29" r="0.45" fill="#3c2e6c" opacity="0.6"/>
<circle cx="30.79" cy="25.89" r="0.45" fill="#3c2e6c" opacity="0.6"/>
<circle cx="30.26" cy="28.76" r="0.45" fill="#3c2e6c" opacity="0.6"/>
<circle cx="29.77" cy="26.01" r="0.45" fill="#3c2e6c" opacity="0.6"/>
<circle cx="32.65" cy="24.45" r="0.45" fill="#3c2e6c" opacity="0.6"/>
<circle cx="30.92" cy="23.83" r="0.45" fill="#3c2e6c" opacity="0.6"/>
<circle cx="30.69" cy="25.17" r="0.45" fill="#3c2e6c" opacity="0.6"/>
<circle cx="35.08" cy="26.06" r="0.45" fill="#3c2e6c" opacity="0.6"/>
<circle cx="39.31" cy="24.93" r="0.45" fill="#3c2e6c" opacity="0.6"/>
<circle cx="37.56" cy="25.18" r="0.45" fill="#3c2e6c" opacity="0.6"/>
<circle cx="37.43" cy="21.61" r="0.45" fill="#3c2e6c" opacity="0.6"/>
<circle cx="38.00" cy="24.09" r="0.45" fill="#3c2e6c" opacity="0.6"/>
<circle cx="40.22" cy="23.62" r="0.45" fill="#3c2e6c" opacity="0.6"/>
<circle cx="40.26" cy="23.37" r="0.45" fill="#3c2e6c" opacity="0.6"/>
<circle cx="41.74" cy="22.75" r="0.45" fill="#3c2e6c" opacity="0.6"/>
<circle cx="41.18" cy="21.32" r="0.45" fill="#3c2e6c" opacity="0.6"/>
<circle cx="44.31" cy="24.93" r="0.45" fill="#3c2e6c" opacity="0.6"/>
<circle cx="45.46" cy="23.14" r="0.45" fill="#3c2e6c" opacity="0.6"/>
<circle cx="49.42" cy="22.34" r="0.45" fill="#3c2e6c" opacity="0.6"/>
<circle cx="46.84" cy="18.39" r="0.45" fill="#3c2e6c" opacity="0.6"/>
<circle cx="47.79" cy="23.31" r="0.45" fill="#3c2e6c" opacity="0.6"/>
<circle cx="47.72" cy="20.44" r="0.45" fill="#3c2e6c" opacity="0.6"/>
<circle cx="50.07" cy="21.10" r="0.45" fill="#3c2e6c" opacity="0.6"/>
<circle cx="49.66" cy="21.75" r="0.45" fill="#3c2e6c" opacity="0.6"/>
<circle cx="50.53" cy="13.98" r="0.5" fill="#3c2e6c" opacity="0.45"/>
<circle cx="60.29" cy="17.91" r="0.5" fill="#3c2e6c" opacity="0.45"/>
<circle cx="59.03" cy="17.12" r="0.5" fill="#3c2e6c" opacity="0.45"/>
<circle cx="59.48" cy="20.02" r="0.5" fill="#3c2e6c" opacity="0.45"/>
<circle cx="51.05" cy="19.77" r="0.5" fill="#3c2e6c" opacity="0.45"/>
<circle cx="55.90" cy="15.26" r="0.5" fill="#3c2e6c" opacity="0.45"/>
<circle cx="59.79" cy="17.76" r="0.5" fill="#3c2e6c" opacity="0.45"/>
<circle cx="57.05" cy="18.45" r="0.5" fill="#3c2e6c" opacity="0.45"/>
<circle cx="59.54" cy="17.18" r="0.5" fill="#3c2e6c" opacity="0.45"/>
<circle cx="59.62" cy="20.02" r="0.5" fill="#3c2e6c" opacity="0.45"/>
<circle cx="53.77" cy="19.84" r="0.5" fill="#3c2e6c" opacity="0.45"/>
<circle cx="61.36" cy="17.36" r="0.5" fill="#3c2e6c" opacity="0.45"/>
</svg>
<rect x="419.9" y="281.09999999999997" width="90.00000000000001" height="45.800000000000026" fill="none" stroke="#f6c586" stroke-width="1.8"/>
<svg x="322.8" y="331.8" width="92.09999999999997" height="47.599999999999966" viewBox="0 0 92.10 47.60" overflow="hidden">
<rect width="92.09999999999997" height="47.599999999999966" fill="url(#bgD)"/>
<path d="M0,19.03999999999999 C18.419999999999995,15.231999999999989 41.444999999999986,13.327999999999992 59.86499999999998,14.279999999999989 C73.67999999999998,15.70799999999999 81.04799999999997,19.991999999999987 84.73199999999997,24.751999999999985 C69.07499999999997,23.799999999999983 50.65499999999999,24.751999999999985 38.68199999999998,26.655999999999985 L0,28.559999999999977 Z" fill="url(#fishG2)" filter="url(#b1)"/>
<path d="M0,22.84799999999998 C11.051999999999996,20.943999999999985 22.103999999999992,22.84799999999998 27.62999999999999,27.131999999999977 C23.94599999999999,34.27199999999998 12.893999999999997,39.03199999999997 0,40.93599999999997 Z" fill="#ebe7e4" filter="url(#b1)"/>
<path d="M0.0,40.93599999999997 C12.893999999999997,39.03199999999997 23.02499999999999,34.27199999999998 27.62999999999999,27.131999999999977" fill="none" stroke="#9a8e86" stroke-width="1.0" filter="url(#b05)"/>
<path d="M0,22.84799999999998 C11.051999999999996,20.943999999999985 22.103999999999992,22.84799999999998 27.62999999999999,27.131999999999977" fill="none" stroke="#c4bcc0" stroke-width="0.8" filter="url(#b05)"/>
<ellipse cx="25.13" cy="27.83" rx="1.17" ry="0.60" fill="#46424c" opacity="0.66"/>
<ellipse cx="28.51" cy="27.88" rx="0.71" ry="0.72" fill="#46424c" opacity="0.78"/>
<ellipse cx="29.90" cy="28.59" rx="0.81" ry="0.64" fill="#46424c" opacity="0.79"/>
<ellipse cx="31.81" cy="26.55" rx="1.07" ry="0.98" fill="#46424c" opacity="0.50"/>
<ellipse cx="36.80" cy="25.73" rx="1.07" ry="0.99" fill="#46424c" opacity="0.65"/>
<ellipse cx="35.35" cy="26.19" rx="0.93" ry="0.90" fill="#46424c" opacity="0.57"/>
<ellipse cx="39.99" cy="25.80" rx="0.98" ry="0.84" fill="#46424c" opacity="0.60"/>
<ellipse cx="40.78" cy="25.48" rx="1.07" ry="0.69" fill="#46424c" opacity="0.53"/>
<ellipse cx="43.05" cy="23.82" rx="1.14" ry="0.83" fill="#46424c" opacity="0.69"/>
<ellipse cx="45.46" cy="23.77" rx="1.59" ry="0.87" fill="#46424c" opacity="0.59"/>
<ellipse cx="47.80" cy="23.16" rx="0.96" ry="0.70" fill="#46424c" opacity="0.71"/>
<ellipse cx="49.15" cy="22.94" rx="1.39" ry="1.06" fill="#46424c" opacity="0.67"/>
<ellipse cx="52.40" cy="23.76" rx="1.28" ry="1.01" fill="#46424c" opacity="0.53"/>
<ellipse cx="55.03" cy="23.62" rx="1.10" ry="0.61" fill="#46424c" opacity="0.54"/>
<ellipse cx="56.98" cy="22.76" rx="1.05" ry="0.87" fill="#46424c" opacity="0.68"/>
<ellipse cx="58.51" cy="23.25" rx="0.81" ry="0.94" fill="#46424c" opacity="0.53"/>
<ellipse cx="59.93" cy="22.87" rx="1.36" ry="0.71" fill="#46424c" opacity="0.57"/>
<circle cx="25.46" cy="28.06" r="0.45" fill="#46424c" opacity="0.6"/>
<circle cx="25.46" cy="25.42" r="0.45" fill="#46424c" opacity="0.6"/>
<circle cx="26.32" cy="27.71" r="0.45" fill="#46424c" opacity="0.6"/>
<circle cx="28.37" cy="30.35" r="0.45" fill="#46424c" opacity="0.6"/>
<circle cx="32.86" cy="29.00" r="0.45" fill="#46424c" opacity="0.6"/>
<circle cx="29.87" cy="27.84" r="0.45" fill="#46424c" opacity="0.6"/>
<circle cx="31.48" cy="26.72" r="0.45" fill="#46424c" opacity="0.6"/>
<circle cx="32.73" cy="27.38" r="0.45" fill="#46424c" opacity="0.6"/>
<circle cx="33.87" cy="27.04" r="0.45" fill="#46424c" opacity="0.6"/>
<circle cx="32.59" cy="26.02" r="0.45" fill="#46424c" opacity="0.6"/>
<circle cx="37.39" cy="27.31" r="0.45" fill="#46424c" opacity="0.6"/>
<circle cx="35.51" cy="26.51" r="0.45" fill="#46424c" opacity="0.6"/>
<circle cx="38.57" cy="23.86" r="0.45" fill="#46424c" opacity="0.6"/>
<circle cx="39.75" cy="26.01" r="0.45" fill="#46424c" opacity="0.6"/>
<circle cx="40.56" cy="27.52" r="0.45" fill="#46424c" opacity="0.6"/>
<circle cx="40.79" cy="24.88" r="0.45" fill="#46424c" opacity="0.6"/>
<circle cx="43.43" cy="24.88" r="0.45" fill="#46424c" opacity="0.6"/>
<circle cx="43.09" cy="24.61" r="0.45" fill="#46424c" opacity="0.6"/>
<circle cx="45.32" cy="27.05" r="0.45" fill="#46424c" opacity="0.6"/>
<circle cx="47.89" cy="23.33" r="0.45" fill="#46424c" opacity="0.6"/>
<circle cx="49.02" cy="21.78" r="0.45" fill="#46424c" opacity="0.6"/>
<circle cx="48.44" cy="25.49" r="0.45" fill="#46424c" opacity="0.6"/>
<circle cx="46.33" cy="24.60" r="0.45" fill="#46424c" opacity="0.6"/>
<circle cx="50.95" cy="22.07" r="0.45" fill="#46424c" opacity="0.6"/>
<circle cx="52.50" cy="21.23" r="0.45" fill="#46424c" opacity="0.6"/>
<circle cx="53.67" cy="23.04" r="0.45" fill="#46424c" opacity="0.6"/>
<circle cx="54.84" cy="21.38" r="0.45" fill="#46424c" opacity="0.6"/>
<circle cx="55.29" cy="24.41" r="0.45" fill="#46424c" opacity="0.6"/>
<circle cx="53.98" cy="25.63" r="0.45" fill="#46424c" opacity="0.6"/>
<circle cx="54.85" cy="26.43" r="0.45" fill="#46424c" opacity="0.6"/>
<circle cx="60.61" cy="21.99" r="0.45" fill="#46424c" opacity="0.6"/>
<circle cx="61.16" cy="23.65" r="0.45" fill="#46424c" opacity="0.6"/>
<circle cx="60.27" cy="23.56" r="0.45" fill="#46424c" opacity="0.6"/>
<circle cx="58.19" cy="22.81" r="0.45" fill="#46424c" opacity="0.6"/>
<circle cx="72.81" cy="14.81" r="0.5" fill="#46424c" opacity="0.45"/>
<circle cx="62.32" cy="21.49" r="0.5" fill="#46424c" opacity="0.45"/>
<circle cx="77.63" cy="18.03" r="0.5" fill="#46424c" opacity="0.45"/>
<circle cx="77.92" cy="15.47" r="0.5" fill="#46424c" opacity="0.45"/>
<circle cx="63.34" cy="22.09" r="0.5" fill="#46424c" opacity="0.45"/>
<circle cx="62.55" cy="23.57" r="0.5" fill="#46424c" opacity="0.45"/>
<circle cx="63.09" cy="18.86" r="0.5" fill="#46424c" opacity="0.45"/>
<circle cx="62.38" cy="26.62" r="0.5" fill="#46424c" opacity="0.45"/>
<circle cx="72.91" cy="18.55" r="0.5" fill="#46424c" opacity="0.45"/>
<circle cx="61.71" cy="23.21" r="0.5" fill="#46424c" opacity="0.45"/>
</svg>
<rect x="323.7" y="332.7" width="90.29999999999997" height="45.79999999999997" fill="none" stroke="#1f4a7e" stroke-width="1.8"/>
<svg x="419.0" y="331.8" width="91.80000000000001" height="47.599999999999966" viewBox="0 0 91.80 47.60" overflow="hidden">
<rect width="91.80000000000001" height="47.599999999999966" fill="url(#bgD)"/>
<path d="M0,19.03999999999999 C18.360000000000003,15.231999999999989 41.31000000000001,13.327999999999992 59.67000000000001,14.279999999999989 C73.44000000000001,15.70799999999999 80.784,19.991999999999987 84.45600000000002,24.751999999999985 C68.85000000000001,23.799999999999983 50.49000000000001,24.751999999999985 38.556000000000004,26.655999999999985 L0,28.559999999999977 Z" fill="url(#fishG2)" filter="url(#b1)"/>
<path d="M0,22.84799999999998 C11.016000000000002,20.943999999999985 22.032000000000004,22.84799999999998 27.540000000000003,27.131999999999977 C23.868000000000002,34.27199999999998 12.852000000000002,39.03199999999997 0,40.93599999999997 Z" fill="#ebe7e4" filter="url(#b1)"/>
<path d="M0.0,40.93599999999997 C12.852000000000002,39.03199999999997 22.950000000000003,34.27199999999998 27.540000000000003,27.131999999999977" fill="none" stroke="#9a8e86" stroke-width="1.0" filter="url(#b05)"/>
<path d="M0,22.84799999999998 C11.016000000000002,20.943999999999985 22.032000000000004,22.84799999999998 27.540000000000003,27.131999999999977" fill="none" stroke="#c4bcc0" stroke-width="0.8" filter="url(#b05)"/>
<ellipse cx="23.03" cy="26.88" rx="1.00" ry="1.07" fill="#3c3842" opacity="0.51"/>
<ellipse cx="25.66" cy="28.86" rx="1.32" ry="1.10" fill="#3c3842" opacity="0.73"/>
<ellipse cx="27.26" cy="28.18" rx="1.24" ry="0.91" fill="#3c3842" opacity="0.54"/>
<ellipse cx="29.69" cy="27.74" rx="1.33" ry="0.64" fill="#3c3842" opacity="0.74"/>
<ellipse cx="33.55" cy="27.80" rx="0.72" ry="0.94" fill="#3c3842" opacity="0.76"/>
<ellipse cx="33.99" cy="26.67" rx="1.50" ry="1.10" fill="#3c3842" opacity="0.59"/>
<ellipse cx="34.49" cy="26.67" rx="1.14" ry="1.09" fill="#3c3842" opacity="0.72"/>
<ellipse cx="38.30" cy="24.04" rx="1.26" ry="0.84" fill="#3c3842" opacity="0.69"/>
<ellipse cx="40.68" cy="24.56" rx="1.12" ry="0.64" fill="#3c3842" opacity="0.50"/>
<ellipse cx="43.20" cy="23.43" rx="1.43" ry="0.99" fill="#3c3842" opacity="0.69"/>
<ellipse cx="47.11" cy="24.46" rx="1.05" ry="1.09" fill="#3c3842" opacity="0.64"/>
<ellipse cx="47.07" cy="24.75" rx="0.95" ry="0.81" fill="#3c3842" opacity="0.62"/>
<ellipse cx="51.08" cy="21.60" rx="1.08" ry="1.03" fill="#3c3842" opacity="0.61"/>
<ellipse cx="50.70" cy="23.77" rx="0.97" ry="0.67" fill="#3c3842" opacity="0.69"/>
<ellipse cx="54.41" cy="23.71" rx="0.84" ry="1.03" fill="#3c3842" opacity="0.72"/>
<ellipse cx="58.06" cy="22.89" rx="1.50" ry="0.70" fill="#3c3842" opacity="0.51"/>
<ellipse cx="60.29" cy="24.10" rx="1.52" ry="0.63" fill="#3c3842" opacity="0.48"/>
<ellipse cx="62.35" cy="22.65" rx="0.97" ry="1.05" fill="#3c3842" opacity="0.58"/>
<ellipse cx="64.95" cy="21.30" rx="1.22" ry="0.62" fill="#3c3842" opacity="0.57"/>
<circle cx="24.41" cy="28.08" r="0.45" fill="#3c3842" opacity="0.6"/>
<circle cx="26.78" cy="26.91" r="0.45" fill="#3c3842" opacity="0.6"/>
<circle cx="23.78" cy="28.15" r="0.45" fill="#3c3842" opacity="0.6"/>
<circle cx="27.05" cy="26.09" r="0.45" fill="#3c3842" opacity="0.6"/>
<circle cx="28.21" cy="28.15" r="0.45" fill="#3c3842" opacity="0.6"/>
<circle cx="26.83" cy="27.18" r="0.45" fill="#3c3842" opacity="0.6"/>
<circle cx="31.35" cy="29.03" r="0.45" fill="#3c3842" opacity="0.6"/>
<circle cx="29.12" cy="28.60" r="0.45" fill="#3c3842" opacity="0.6"/>
<circle cx="32.01" cy="30.51" r="0.45" fill="#3c3842" opacity="0.6"/>
<circle cx="32.72" cy="27.98" r="0.45" fill="#3c3842" opacity="0.6"/>
<circle cx="31.74" cy="28.47" r="0.45" fill="#3c3842" opacity="0.6"/>
<circle cx="35.21" cy="25.60" r="0.45" fill="#3c3842" opacity="0.6"/>
<circle cx="35.60" cy="25.88" r="0.45" fill="#3c3842" opacity="0.6"/>
<circle cx="36.60" cy="26.68" r="0.45" fill="#3c3842" opacity="0.6"/>
<circle cx="37.86" cy="24.95" r="0.45" fill="#3c3842" opacity="0.6"/>
<circle cx="44.23" cy="24.94" r="0.45" fill="#3c3842" opacity="0.6"/>
<circle cx="41.58" cy="25.10" r="0.45" fill="#3c3842" opacity="0.6"/>
<circle cx="41.85" cy="24.49" r="0.45" fill="#3c3842" opacity="0.6"/>
<circle cx="41.03" cy="25.07" r="0.45" fill="#3c3842" opacity="0.6"/>
<circle cx="44.54" cy="23.88" r="0.45" fill="#3c3842" opacity="0.6"/>
<circle cx="43.57" cy="24.82" r="0.45" fill="#3c3842" opacity="0.6"/>
<circle cx="44.28" cy="23.02" r="0.45" fill="#3c3842" opacity="0.6"/>
<circle cx="46.46" cy="20.82" r="0.45" fill="#3c3842" opacity="0.6"/>
<circle cx="50.97" cy="24.99" r="0.45" fill="#3c3842" opacity="0.6"/>
<circle cx="51.68" cy="22.74" r="0.45" fill="#3c3842" opacity="0.6"/>
<circle cx="49.53" cy="22.97" r="0.45" fill="#3c3842" opacity="0.6"/>
<circle cx="51.77" cy="19.94" r="0.45" fill="#3c3842" opacity="0.6"/>
<circle cx="54.90" cy="23.94" r="0.45" fill="#3c3842" opacity="0.6"/>
<circle cx="53.26" cy="21.15" r="0.45" fill="#3c3842" opacity="0.6"/>
<circle cx="55.21" cy="23.06" r="0.45" fill="#3c3842" opacity="0.6"/>
<circle cx="59.74" cy="23.40" r="0.45" fill="#3c3842" opacity="0.6"/>
<circle cx="56.01" cy="23.80" r="0.45" fill="#3c3842" opacity="0.6"/>
<circle cx="56.83" cy="21.24" r="0.45" fill="#3c3842" opacity="0.6"/>
<circle cx="60.56" cy="22.47" r="0.45" fill="#3c3842" opacity="0.6"/>
<circle cx="58.74" cy="21.69" r="0.45" fill="#3c3842" opacity="0.6"/>
<circle cx="61.30" cy="21.09" r="0.45" fill="#3c3842" opacity="0.6"/>
<circle cx="62.40" cy="22.73" r="0.45" fill="#3c3842" opacity="0.6"/>
<circle cx="63.85" cy="21.04" r="0.45" fill="#3c3842" opacity="0.6"/>
<circle cx="75.83" cy="21.48" r="0.5" fill="#3c3842" opacity="0.45"/>
<circle cx="67.19" cy="21.54" r="0.5" fill="#3c3842" opacity="0.45"/>
<circle cx="63.85" cy="23.13" r="0.5" fill="#3c3842" opacity="0.45"/>
<circle cx="62.48" cy="18.80" r="0.5" fill="#3c3842" opacity="0.45"/>
<circle cx="71.01" cy="24.11" r="0.5" fill="#3c3842" opacity="0.45"/>
<circle cx="78.80" cy="23.83" r="0.5" fill="#3c3842" opacity="0.45"/>
<circle cx="67.57" cy="22.39" r="0.5" fill="#3c3842" opacity="0.45"/>
<circle cx="66.30" cy="21.78" r="0.5" fill="#3c3842" opacity="0.45"/>
<circle cx="75.16" cy="19.61" r="0.5" fill="#3c3842" opacity="0.45"/>
<circle cx="64.90" cy="22.54" r="0.5" fill="#3c3842" opacity="0.45"/>
<circle cx="71.87" cy="22.07" r="0.5" fill="#3c3842" opacity="0.45"/>
</svg>
<rect x="419.9" y="332.7" width="90.00000000000001" height="45.79999999999997" fill="none" stroke="#d41b7c" stroke-width="1.8"/>
<line x1="400.20" y1="320.50" x2="408.50" y2="320.50" stroke="#404040" stroke-width="1.0"/>
<line x1="497.00" y1="320.50" x2="505.30" y2="320.50" stroke="#404040" stroke-width="1.0"/>
<line x1="400.40" y1="372.20" x2="408.70" y2="372.20" stroke="#6a5a48" stroke-width="1.0"/>
<line x1="496.80" y1="372.00" x2="505.10" y2="372.00" stroke="#5e6456" stroke-width="1.0"/>
<text x="417.30" y="274.00" font-size="10.04" text-anchor="middle" fill="#222" textLength="67.18" lengthAdjust="spacingAndGlyphs" >Neutrophils (<tspan font-style="italic">lyz</tspan>)</text>
<text x="368.50" y="389.00" font-size="8.53" text-anchor="middle" fill="#1c1c1c" textLength="42.58" lengthAdjust="spacingAndGlyphs" >Control (E3)</text>
<text x="465.00" y="389.00" font-size="8.53" text-anchor="middle" fill="#1c1c1c" textLength="49.18" lengthAdjust="spacingAndGlyphs" >Staurosporine</text>
<text x="318.80" y="304.00" font-size="7.9" text-anchor="middle" fill="#2a2a2a" transform="rotate(-90 318.80 304.00)" >Wild-type</text>
<text x="319.20" y="355.00" font-size="7.9" text-anchor="middle" fill="#2a2a2a" transform="rotate(-90 319.20 355.00)" ><tspan font-style="italic">jagn1b</tspan> MO</text>
<rect x="0" y="0" width="520" height="1.3" fill="#5e5e5e"/><rect x="0" y="0" width="1.3" height="497" fill="#5e5e5e"/><rect x="518.7" y="0" width="1.3" height="497" fill="#5e5e5e"/><rect x="0" y="495.7" width="520" height="1.3" fill="#5e5e5e"/>
</svg>
</body></html>
